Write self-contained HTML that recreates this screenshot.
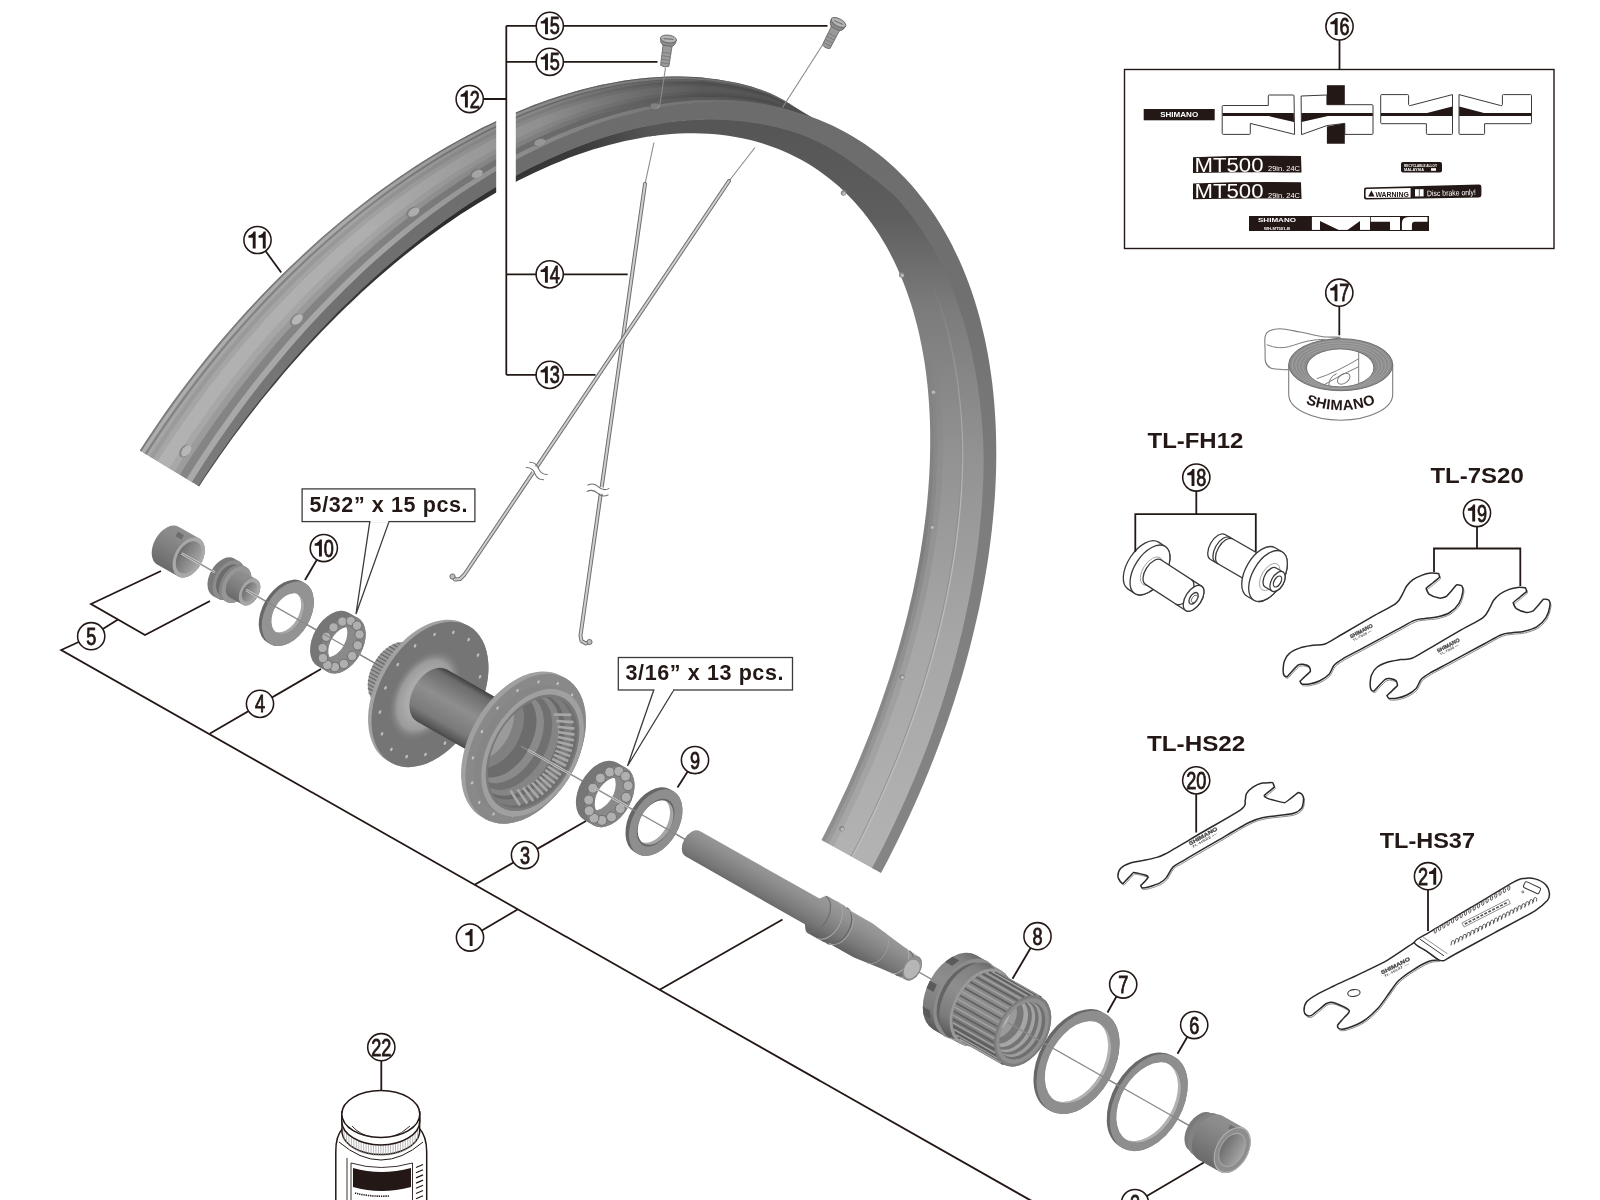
<!DOCTYPE html>
<html><head><meta charset="utf-8"><title>Wheel exploded view</title>
<style>
html,body{margin:0;padding:0;background:#fff;}
body{width:1600px;height:1200px;overflow:hidden;font-family:"Liberation Sans",sans-serif;}
svg{display:block;}
svg text{font-family:"Liberation Sans",sans-serif;}
</style></head><body>
<svg width="1600" height="1200" viewBox="0 0 1600 1200">
<defs><filter id="noop" x="0" y="0" width="1600" height="1200" filterUnits="userSpaceOnUse"><feOffset dx="0" dy="0"/></filter></defs>
<g filter="url(#noop)">
<rect width="1600" height="1200" fill="#fff"/>
<defs>
<linearGradient id="gSide" gradientUnits="userSpaceOnUse" x1="0" y1="100" x2="0" y2="870"><stop offset="0" stop-color="#6c6c6c"/><stop offset="0.25" stop-color="#707070"/><stop offset="0.5" stop-color="#7c7c7c"/><stop offset="1" stop-color="#858585"/></linearGradient>
<linearGradient id="gFace" gradientUnits="userSpaceOnUse" x1="0" y1="130" x2="0" y2="850"><stop offset="0" stop-color="#565656"/><stop offset="0.12" stop-color="#5e5e5e"/><stop offset="0.25" stop-color="#7c7c7c"/><stop offset="0.45" stop-color="#929292"/><stop offset="0.7" stop-color="#a6a6a6"/><stop offset="1" stop-color="#b2b2b2"/></linearGradient>
<linearGradient id="gFaceL" gradientUnits="userSpaceOnUse" x1="200" y1="0" x2="652" y2="0"><stop offset="0" stop-color="#4a4a4a"/><stop offset="0.55" stop-color="#2c2c2c"/><stop offset="0.85" stop-color="#3c3c3c"/><stop offset="1" stop-color="#565656"/></linearGradient>
<linearGradient id="gDarkA" gradientUnits="userSpaceOnUse" x1="140" y1="450" x2="800" y2="100"><stop offset="0" stop-color="#000" stop-opacity="0"/><stop offset="0.4" stop-color="#000" stop-opacity="0.02"/><stop offset="0.62" stop-color="#000" stop-opacity="0.16"/><stop offset="0.85" stop-color="#000" stop-opacity="0.3"/><stop offset="1" stop-color="#000" stop-opacity="0.4"/></linearGradient>
<linearGradient id="gDarkC" gradientUnits="userSpaceOnUse" x1="540" y1="0" x2="700" y2="0"><stop offset="0" stop-color="#000" stop-opacity="0"/><stop offset="1" stop-color="#000" stop-opacity="0.25"/></linearGradient>
</defs>
<g id="rim">
<path d="M139.8,450.4 L146.0,440.9 L152.4,431.4 L158.8,422.0 L165.3,412.6 L171.9,403.3 L178.7,394.1 L185.5,385.0 L192.4,375.9 L199.4,366.9 L206.5,358.1 L213.7,349.3 L221.0,340.6 L228.4,332.0 L235.8,323.5 L243.3,315.1 L250.9,306.8 L258.6,298.6 L266.3,290.5 L274.1,282.5 L281.9,274.7 L289.9,267.0 L297.9,259.4 L305.9,251.9 L314.0,244.5 L322.1,237.3 L330.3,230.2 L338.6,223.3 L346.8,216.4 L355.2,209.8 L363.5,203.2 L371.9,196.8 L380.3,190.6 L388.8,184.5 L397.2,178.5 L405.7,172.7 L414.2,167.1 L422.8,161.6 L431.3,156.2 L439.9,151.1 L448.4,146.0 L457.0,141.2 L465.6,136.5 L474.1,132.0 L482.7,127.6 L491.3,123.5 L499.8,119.4 L508.3,115.6 L516.9,111.9 L525.4,108.5 L533.8,105.1 L542.3,102.0 L550.7,99.0 L559.1,96.3 L567.5,93.7 L575.8,91.2 L584.1,89.0 L592.3,86.9 L600.5,85.1 L608.7,83.4 L616.8,81.9 L624.8,80.6 L632.8,79.4 L640.8,78.5 L648.7,77.7 L656.5,77.2 L664.2,76.8 L671.9,76.6 L679.5,76.5 L687.0,76.7 L694.5,77.1 L701.9,77.6 L709.1,78.4 L716.4,79.3 L723.5,80.4 L730.5,81.7 L737.5,83.1 L744.3,84.8 L751.1,86.6 L757.7,88.7 L764.3,90.9 L770.7,93.4 L776.9,96.4 L783.0,99.7 L788.9,103.2 L794.7,106.9 L800.4,110.5 L806.1,114.0 L811.7,117.2 L817.5,120.1 L817.5,120.1 L811.5,117.8 L805.4,115.7 L799.2,113.7 L793.0,111.9 L786.7,110.3 L780.3,108.8 L773.9,107.5 L767.4,106.3 L760.8,105.3 L754.2,104.4 L747.5,103.7 L740.7,103.1 L733.9,102.8 L727.0,102.5 L720.1,102.4 L713.2,102.5 L706.1,102.7 L699.1,103.1 L692.0,103.6 L684.8,104.3 L677.6,105.2 L670.3,106.2 L663.1,107.4 L655.7,108.7 L648.4,110.2 L641.0,111.8 L633.6,113.6 L626.1,115.5 L618.6,117.6 L611.1,119.8 L603.6,122.2 L596.1,124.8 L588.5,127.5 L580.9,130.3 L573.3,133.3 L565.7,136.5 L558.0,139.8 L550.4,143.2 L542.8,146.8 L535.1,150.5 L527.4,154.4 L519.8,158.4 L512.1,162.6 L504.5,166.9 L496.8,171.3 L489.1,175.9 L481.5,180.6 L473.9,185.5 L466.2,190.5 L458.6,195.6 L451.0,200.8 L443.5,206.2 L435.9,211.8 L428.4,217.4 L420.9,223.2 L413.4,229.1 L405.9,235.1 L398.5,241.2 L391.1,247.5 L383.7,253.9 L376.4,260.4 L369.1,267.0 L361.8,273.7 L354.6,280.6 L347.5,287.5 L340.3,294.6 L333.2,301.8 L326.2,309.0 L319.2,316.4 L312.3,323.9 L305.4,331.5 L298.6,339.1 L291.8,346.9 L285.1,354.8 L278.5,362.7 L271.9,370.8 L265.4,378.9 L258.9,387.1 L252.5,395.4 L246.2,403.8 L239.9,412.3 L233.8,420.8 L227.7,429.4 L221.6,438.1 L215.7,446.8 L209.8,455.7 L204.0,464.6 L198.3,473.5 L192.7,482.5Z" fill="#a2a2a2"/>
<path d="M139.8,450.4 L146.0,440.9 L152.4,431.4 L158.8,422.0 L165.3,412.6 L171.9,403.3 L178.7,394.1 L185.5,385.0 L192.4,375.9 L199.4,366.9 L206.5,358.1 L213.7,349.3 L221.0,340.6 L228.4,332.0 L235.8,323.5 L243.3,315.1 L250.9,306.8 L258.6,298.6 L266.3,290.5 L274.1,282.5 L281.9,274.7 L289.9,267.0 L297.9,259.4 L305.9,251.9 L314.0,244.5 L322.1,237.3 L330.3,230.2 L338.6,223.3 L346.8,216.4 L355.2,209.8 L363.5,203.2 L371.9,196.8 L380.3,190.6 L388.8,184.5 L397.2,178.5 L405.7,172.7 L414.2,167.1 L422.8,161.6 L431.3,156.2 L439.9,151.1 L448.4,146.0 L457.0,141.2 L465.6,136.5 L474.1,132.0 L482.7,127.6 L491.3,123.5 L499.8,119.4 L508.3,115.6 L516.9,111.9 L525.4,108.5 L533.8,105.1 L542.3,102.0 L550.7,99.0 L559.1,96.3 L567.5,93.7 L575.8,91.2 L584.1,89.0 L592.3,86.9 L600.5,85.1 L608.7,83.4 L616.8,81.9 L624.8,80.6 L632.8,79.4 L640.8,78.5 L648.7,77.7 L656.5,77.2 L664.2,76.8 L671.9,76.6 L679.5,76.5 L687.0,76.7 L694.5,77.1 L701.9,77.6 L709.1,78.4 L716.4,79.3 L723.5,80.4 L730.5,81.7 L737.5,83.1 L744.3,84.8 L751.1,86.6 L757.7,88.7 L764.3,90.9 L770.7,93.4 L776.9,96.4 L783.0,99.7 L788.9,103.2 L794.7,106.9 L800.4,110.5 L806.1,114.0 L811.7,117.2 L817.5,120.1 L817.5,120.1 L811.7,117.2 L806.0,114.0 L800.4,110.6 L794.6,107.0 L788.8,103.5 L782.9,100.0 L776.8,96.8 L770.6,93.9 L764.1,91.4 L757.6,89.2 L750.9,87.2 L744.2,85.4 L737.3,83.8 L730.4,82.4 L723.4,81.2 L716.2,80.1 L709.0,79.2 L701.8,78.5 L694.4,78.0 L686.9,77.7 L679.4,77.6 L671.8,77.6 L664.2,77.8 L656.4,78.3 L648.6,78.9 L640.8,79.7 L632.9,80.6 L624.9,81.8 L616.9,83.1 L608.8,84.7 L600.6,86.4 L592.5,88.3 L584.2,90.4 L576.0,92.6 L567.7,95.0 L559.3,97.7 L551.0,100.5 L542.6,103.4 L534.1,106.6 L525.7,109.9 L517.2,113.4 L508.7,117.1 L500.2,121.0 L491.7,125.0 L483.2,129.2 L474.7,133.5 L466.1,138.1 L457.6,142.7 L449.1,147.6 L440.5,152.6 L432.0,157.8 L423.5,163.1 L415.0,168.6 L406.5,174.3 L398.1,180.1 L389.6,186.0 L381.2,192.1 L372.8,198.4 L364.5,204.8 L356.2,211.3 L347.9,218.0 L339.6,224.8 L331.4,231.7 L323.3,238.8 L315.2,246.0 L307.1,253.4 L299.1,260.8 L291.1,268.4 L283.3,276.2 L275.4,284.0 L267.7,291.9 L260.0,300.0 L252.3,308.2 L244.8,316.4 L237.3,324.8 L229.9,333.3 L222.5,341.9 L215.3,350.6 L208.1,359.4 L201.1,368.2 L194.1,377.2 L187.2,386.2 L180.4,395.3 L173.7,404.5 L167.1,413.8 L160.6,423.1 L154.2,432.6 L147.9,442.0 L141.7,451.6Z" fill="#7d7d7d"/>
<path d="M141.5,451.4 L147.7,441.9 L154.0,432.4 L160.4,423.0 L166.9,413.7 L173.5,404.4 L180.2,395.2 L187.0,386.1 L193.9,377.0 L200.9,368.1 L208.0,359.2 L215.1,350.4 L222.4,341.8 L229.7,333.2 L237.1,324.7 L244.6,316.3 L252.2,308.0 L259.8,299.8 L267.5,291.8 L275.3,283.8 L283.1,276.0 L291.0,268.3 L299.0,260.7 L307.0,253.2 L315.0,245.9 L323.1,238.6 L331.3,231.6 L339.5,224.6 L347.8,217.8 L356.0,211.1 L364.4,204.6 L372.7,198.2 L381.1,191.9 L389.5,185.8 L398.0,179.9 L406.4,174.1 L414.9,168.4 L423.4,163.0 L431.9,157.6 L440.5,152.4 L449.0,147.4 L457.5,142.6 L466.1,137.9 L474.6,133.4 L483.1,129.0 L491.7,124.8 L500.2,120.8 L508.7,116.9 L517.2,113.3 L525.7,109.8 L534.1,106.4 L542.5,103.3 L550.9,100.3 L559.3,97.5 L567.6,94.9 L576.0,92.5 L584.2,90.2 L592.4,88.1 L600.6,86.2 L608.8,84.5 L616.8,83.0 L624.9,81.7 L632.9,80.5 L640.8,79.5 L648.6,78.7 L656.4,78.1 L664.2,77.7 L671.8,77.5 L679.4,77.4 L687.0,77.6 L694.4,77.9 L701.8,78.4 L709.1,79.1 L716.3,80.0 L723.4,81.1 L730.4,82.3 L737.3,83.8 L744.2,85.4 L750.9,87.2 L757.6,89.2 L764.1,91.3 L770.6,93.8 L776.8,96.7 L782.9,100.0 L788.8,103.4 L794.6,107.0 L800.4,110.6 L806.0,114.0 L811.7,117.2 L817.5,120.1 L817.5,120.1 L811.7,117.3 L806.0,114.1 L800.3,110.8 L794.5,107.3 L788.7,103.9 L782.7,100.6 L776.6,97.4 L770.4,94.6 L763.9,92.3 L757.4,90.2 L750.7,88.3 L744.0,86.5 L737.1,85.0 L730.2,83.7 L723.2,82.5 L716.1,81.5 L708.9,80.7 L701.6,80.0 L694.2,79.6 L686.8,79.3 L679.3,79.3 L671.7,79.4 L664.1,79.7 L656.4,80.1 L648.6,80.8 L640.8,81.7 L632.9,82.7 L625.0,83.9 L617.0,85.3 L608.9,86.9 L600.8,88.6 L592.7,90.5 L584.5,92.7 L576.3,95.0 L568.0,97.4 L559.7,100.1 L551.4,102.9 L543.1,105.9 L534.7,109.1 L526.3,112.5 L517.9,116.0 L509.4,119.7 L501.0,123.5 L492.5,127.6 L484.0,131.8 L475.6,136.2 L467.1,140.7 L458.6,145.4 L450.1,150.3 L441.7,155.3 L433.2,160.5 L424.7,165.8 L416.3,171.3 L407.9,177.0 L399.5,182.8 L391.1,188.7 L382.7,194.8 L374.4,201.0 L366.1,207.4 L357.9,213.9 L349.6,220.6 L341.5,227.4 L333.3,234.3 L325.2,241.4 L317.2,248.6 L309.2,255.9 L301.2,263.4 L293.3,271.0 L285.5,278.7 L277.7,286.5 L270.0,294.4 L262.4,302.4 L254.8,310.6 L247.3,318.8 L239.8,327.2 L232.5,335.6 L225.2,344.2 L218.0,352.9 L210.9,361.6 L203.9,370.4 L196.9,379.4 L190.1,388.4 L183.3,397.5 L176.7,406.6 L170.1,415.9 L163.6,425.2 L157.3,434.5 L151.0,444.0 L144.8,453.5Z" fill="#adadad"/>
<path d="M144.6,453.4 L150.8,443.9 L157.1,434.4 L163.4,425.0 L169.9,415.7 L176.5,406.5 L183.1,397.3 L189.9,388.2 L196.7,379.2 L203.7,370.3 L210.7,361.5 L217.8,352.7 L225.0,344.1 L232.3,335.5 L239.7,327.0 L247.1,318.7 L254.6,310.4 L262.2,302.3 L269.8,294.2 L277.6,286.3 L285.3,278.5 L293.2,270.8 L301.1,263.2 L309.0,255.8 L317.0,248.4 L325.1,241.2 L333.2,234.2 L341.3,227.2 L349.5,220.4 L357.8,213.8 L366.0,207.2 L374.3,200.9 L382.6,194.6 L391.0,188.5 L399.4,182.6 L407.8,176.8 L416.2,171.1 L424.7,165.6 L433.1,160.3 L441.6,155.1 L450.1,150.1 L458.5,145.2 L467.0,140.5 L475.5,136.0 L484.0,131.6 L492.5,127.4 L500.9,123.4 L509.4,119.5 L517.8,115.8 L526.2,112.3 L534.6,108.9 L543.0,105.8 L551.4,102.7 L559.7,99.9 L568.0,97.3 L576.3,94.8 L584.5,92.5 L592.7,90.4 L600.8,88.5 L608.9,86.7 L617.0,85.1 L625.0,83.7 L632.9,82.5 L640.8,81.5 L648.6,80.7 L656.4,80.0 L664.1,79.5 L671.7,79.3 L679.3,79.2 L686.8,79.2 L694.3,79.5 L701.6,79.9 L708.9,80.6 L716.1,81.4 L723.2,82.4 L730.2,83.6 L737.1,84.9 L744.0,86.5 L750.7,88.2 L757.4,90.1 L763.9,92.2 L770.4,94.6 L776.6,97.4 L782.7,100.5 L788.7,103.9 L794.5,107.3 L800.3,110.8 L806.0,114.1 L811.7,117.3 L817.5,120.1 L817.5,120.1 L811.7,117.3 L806.0,114.2 L800.2,110.9 L794.5,107.5 L788.6,104.2 L782.6,100.9 L776.5,97.9 L770.2,95.2 L763.8,92.8 L757.2,90.8 L750.6,89.0 L743.8,87.3 L737.0,85.8 L730.0,84.5 L723.0,83.4 L715.9,82.4 L708.7,81.6 L701.5,81.1 L694.1,80.7 L686.7,80.5 L679.2,80.4 L671.7,80.6 L664.1,80.9 L656.4,81.4 L648.6,82.1 L640.8,83.0 L632.9,84.0 L625.0,85.3 L617.0,86.7 L609.0,88.3 L600.9,90.1 L592.8,92.1 L584.7,94.2 L576.5,96.5 L568.3,99.0 L560.0,101.7 L551.7,104.5 L543.4,107.6 L535.0,110.8 L526.7,114.1 L518.3,117.7 L509.9,121.4 L501.5,125.3 L493.0,129.3 L484.6,133.5 L476.2,137.9 L467.7,142.5 L459.3,147.2 L450.8,152.0 L442.4,157.1 L434.0,162.3 L425.6,167.6 L417.2,173.1 L408.8,178.7 L400.4,184.5 L392.1,190.5 L383.8,196.6 L375.5,202.8 L367.2,209.2 L359.0,215.7 L350.8,222.4 L342.7,229.2 L334.6,236.1 L326.5,243.1 L318.5,250.3 L310.5,257.6 L302.6,265.1 L294.8,272.6 L287.0,280.3 L279.2,288.1 L271.6,296.0 L264.0,304.1 L256.4,312.2 L248.9,320.4 L241.6,328.8 L234.2,337.2 L227.0,345.7 L219.8,354.4 L212.7,363.1 L205.7,371.9 L198.8,380.8 L192.0,389.8 L185.3,398.9 L178.6,408.0 L172.1,417.2 L165.7,426.5 L159.3,435.9 L153.1,445.3 L147.0,454.8Z" fill="#848484"/>
<path d="M146.8,454.6 L152.9,445.2 L159.1,435.7 L165.5,426.4 L171.9,417.1 L178.4,407.9 L185.1,398.7 L191.8,389.7 L198.6,380.7 L205.6,371.8 L212.6,362.9 L219.6,354.2 L226.8,345.6 L234.1,337.0 L241.4,328.6 L248.8,320.3 L256.3,312.0 L263.8,303.9 L271.4,295.9 L279.1,288.0 L286.8,280.2 L294.6,272.5 L302.5,264.9 L310.4,257.5 L318.4,250.2 L326.4,243.0 L334.5,235.9 L342.6,229.0 L350.7,222.2 L358.9,215.5 L367.1,209.0 L375.4,202.6 L383.7,196.4 L392.0,190.3 L400.3,184.4 L408.7,178.6 L417.1,172.9 L425.5,167.4 L433.9,162.1 L442.3,156.9 L450.8,151.9 L459.2,147.0 L467.7,142.3 L476.1,137.7 L484.5,133.4 L493.0,129.1 L501.4,125.1 L509.8,121.2 L518.2,117.5 L526.6,114.0 L535.0,110.6 L543.3,107.4 L551.7,104.4 L560.0,101.5 L568.2,98.9 L576.5,96.4 L584.7,94.0 L592.8,91.9 L600.9,89.9 L609.0,88.2 L617.0,86.6 L625.0,85.1 L632.9,83.9 L640.8,82.9 L648.6,82.0 L656.4,81.3 L664.1,80.8 L671.7,80.4 L679.2,80.3 L686.7,80.3 L694.1,80.6 L701.5,81.0 L708.8,81.6 L715.9,82.3 L723.0,83.3 L730.1,84.4 L737.0,85.7 L743.8,87.2 L750.6,88.9 L757.2,90.7 L763.8,92.8 L770.2,95.1 L776.5,97.8 L782.6,100.9 L788.6,104.1 L794.5,107.5 L800.2,110.9 L806.0,114.2 L811.7,117.3 L817.5,120.1 L817.5,120.1 L811.7,117.3 L805.9,114.3 L800.2,111.1 L794.4,107.8 L788.5,104.6 L782.5,101.4 L776.3,98.5 L770.0,95.9 L763.6,93.6 L757.0,91.7 L750.4,89.9 L743.6,88.3 L736.8,86.9 L729.9,85.6 L722.8,84.6 L715.8,83.7 L708.6,83.0 L701.3,82.5 L694.0,82.1 L686.6,82.0 L679.1,82.0 L671.6,82.2 L664.0,82.6 L656.3,83.1 L648.6,83.9 L640.8,84.8 L633.0,85.9 L625.1,87.2 L617.1,88.7 L609.2,90.3 L601.1,92.1 L593.0,94.1 L584.9,96.3 L576.8,98.7 L568.6,101.2 L560.4,103.9 L552.1,106.8 L543.8,109.8 L535.5,113.1 L527.2,116.4 L518.9,120.0 L510.5,123.7 L502.1,127.6 L493.8,131.7 L485.4,135.9 L477.0,140.3 L468.6,144.9 L460.2,149.6 L451.8,154.5 L443.4,159.5 L435.1,164.7 L426.7,170.1 L418.4,175.6 L410.0,181.2 L401.7,187.0 L393.4,192.9 L385.2,199.0 L377.0,205.3 L368.7,211.6 L360.6,218.1 L352.5,224.8 L344.4,231.6 L336.3,238.5 L328.3,245.5 L320.3,252.7 L312.4,260.0 L304.6,267.4 L296.8,275.0 L289.0,282.6 L281.3,290.4 L273.7,298.3 L266.2,306.3 L258.7,314.4 L251.2,322.6 L243.9,330.9 L236.6,339.3 L229.4,347.8 L222.3,356.5 L215.3,365.2 L208.3,373.9 L201.4,382.8 L194.7,391.8 L188.0,400.8 L181.4,409.9 L174.9,419.1 L168.5,428.4 L162.2,437.7 L156.0,447.1 L149.9,456.5Z" fill="#a6a6a6"/>
<path d="M149.7,456.4 L155.8,447.0 L162.0,437.6 L168.3,428.2 L174.7,419.0 L181.2,409.8 L187.8,400.7 L194.5,391.6 L201.3,382.7 L208.1,373.8 L215.1,365.0 L222.1,356.3 L229.2,347.7 L236.4,339.2 L243.7,330.8 L251.1,322.4 L258.5,314.2 L266.0,306.1 L273.6,298.1 L281.2,290.2 L288.9,282.5 L296.6,274.8 L304.4,267.2 L312.3,259.8 L320.2,252.5 L328.2,245.4 L336.2,238.3 L344.2,231.4 L352.3,224.6 L360.5,218.0 L368.6,211.5 L376.8,205.1 L385.1,198.8 L393.3,192.8 L401.6,186.8 L409.9,181.0 L418.3,175.4 L426.6,169.9 L435.0,164.5 L443.4,159.3 L451.7,154.3 L460.1,149.4 L468.5,144.7 L476.9,140.2 L485.3,135.8 L493.7,131.5 L502.1,127.5 L510.5,123.6 L518.8,119.8 L527.2,116.3 L535.5,112.9 L543.8,109.7 L552.1,106.6 L560.3,103.7 L568.6,101.0 L576.7,98.5 L584.9,96.2 L593.0,94.0 L601.1,92.0 L609.1,90.2 L617.1,88.5 L625.1,87.1 L633.0,85.8 L640.8,84.7 L648.6,83.8 L656.3,83.0 L664.0,82.5 L671.6,82.1 L679.1,81.9 L686.6,81.9 L694.0,82.0 L701.3,82.4 L708.6,82.9 L715.8,83.6 L722.9,84.5 L729.9,85.5 L736.8,86.8 L743.6,88.2 L750.4,89.8 L757.0,91.6 L763.6,93.6 L770.1,95.8 L776.3,98.4 L782.5,101.4 L788.5,104.5 L794.4,107.8 L800.2,111.1 L805.9,114.3 L811.7,117.3 L817.5,120.1 L817.5,120.1 L811.7,117.4 L805.9,114.4 L800.1,111.3 L794.2,108.2 L788.3,105.1 L782.3,102.1 L776.1,99.3 L769.8,96.8 L763.4,94.6 L756.8,92.8 L750.1,91.1 L743.4,89.6 L736.5,88.2 L729.6,87.1 L722.6,86.1 L715.5,85.3 L708.4,84.7 L701.1,84.3 L693.8,84.0 L686.4,83.9 L679.0,84.0 L671.5,84.3 L663.9,84.7 L656.3,85.4 L648.6,86.2 L640.8,87.1 L633.0,88.3 L625.2,89.7 L617.3,91.2 L609.3,92.9 L601.3,94.7 L593.3,96.8 L585.2,99.0 L577.1,101.4 L569.0,104.0 L560.8,106.7 L552.6,109.6 L544.4,112.7 L536.2,116.0 L527.9,119.4 L519.6,123.0 L511.3,126.7 L503.0,130.7 L494.7,134.7 L486.4,139.0 L478.0,143.4 L469.7,148.0 L461.4,152.7 L453.1,157.6 L444.8,162.6 L436.4,167.8 L428.2,173.2 L419.9,178.7 L411.6,184.3 L403.4,190.1 L395.2,196.1 L387.0,202.1 L378.8,208.4 L370.7,214.7 L362.6,221.2 L354.5,227.9 L346.5,234.6 L338.5,241.5 L330.6,248.6 L322.7,255.7 L314.8,263.0 L307.1,270.4 L299.3,277.9 L291.6,285.5 L284.0,293.3 L276.5,301.2 L269.0,309.1 L261.5,317.2 L254.2,325.4 L246.9,333.7 L239.7,342.1 L232.5,350.5 L225.5,359.1 L218.5,367.8 L211.6,376.5 L204.8,385.4 L198.0,394.3 L191.4,403.3 L184.9,412.4 L178.4,421.5 L172.0,430.7 L165.8,440.0 L159.6,449.4 L153.6,458.8Z" fill="#9b9b9b"/>
<path d="M153.4,458.7 L159.4,449.2 L165.6,439.9 L171.8,430.6 L178.2,421.4 L184.7,412.2 L191.2,403.1 L197.9,394.1 L204.6,385.2 L211.4,376.4 L218.3,367.6 L225.3,359.0 L232.4,350.4 L239.5,341.9 L246.7,333.5 L254.0,325.2 L261.4,317.0 L268.8,309.0 L276.3,301.0 L283.9,293.1 L291.5,285.4 L299.2,277.7 L306.9,270.2 L314.7,262.8 L322.6,255.5 L330.5,248.4 L338.4,241.4 L346.4,234.5 L354.4,227.7 L362.5,221.1 L370.6,214.6 L378.7,208.2 L386.9,202.0 L395.1,195.9 L403.3,189.9 L411.5,184.1 L419.8,178.5 L428.1,173.0 L436.4,167.7 L444.7,162.5 L453.0,157.4 L461.3,152.5 L469.6,147.8 L478.0,143.2 L486.3,138.8 L494.6,134.6 L503.0,130.5 L511.3,126.6 L519.6,122.8 L527.8,119.2 L536.1,115.8 L544.4,112.6 L552.6,109.5 L560.8,106.6 L569.0,103.8 L577.1,101.2 L585.2,98.9 L593.3,96.6 L601.3,94.6 L609.3,92.7 L617.3,91.0 L625.2,89.5 L633.0,88.2 L640.8,87.0 L648.6,86.0 L656.3,85.2 L663.9,84.6 L671.5,84.2 L679.0,83.9 L686.5,83.8 L693.8,83.9 L701.1,84.1 L708.4,84.6 L715.5,85.2 L722.6,86.0 L729.6,87.0 L736.5,88.2 L743.4,89.5 L750.1,91.0 L756.8,92.7 L763.4,94.6 L769.8,96.7 L776.1,99.2 L782.3,102.0 L788.3,105.0 L794.2,108.2 L800.1,111.3 L805.9,114.4 L811.7,117.4 L817.5,120.1 L817.5,120.1 L811.6,117.4 L805.8,114.6 L800.0,111.6 L794.1,108.6 L788.1,105.6 L782.1,102.8 L775.9,100.2 L769.5,97.8 L763.1,95.8 L756.5,94.0 L749.8,92.4 L743.1,91.0 L736.3,89.8 L729.3,88.8 L722.3,87.9 L715.3,87.2 L708.1,86.6 L700.9,86.3 L693.6,86.1 L686.3,86.1 L678.8,86.3 L671.4,86.6 L663.8,87.2 L656.2,87.9 L648.6,88.8 L640.8,89.8 L633.1,91.0 L625.3,92.4 L617.4,94.0 L609.5,95.8 L601.6,97.7 L593.6,99.8 L585.6,102.1 L577.5,104.5 L569.5,107.1 L561.3,109.9 L553.2,112.9 L545.0,116.0 L536.9,119.3 L528.7,122.8 L520.5,126.4 L512.2,130.2 L504.0,134.1 L495.7,138.2 L487.5,142.5 L479.2,146.9 L471.0,151.5 L462.7,156.3 L454.5,161.2 L446.3,166.2 L438.0,171.4 L429.8,176.8 L421.6,182.3 L413.4,187.9 L405.3,193.7 L397.1,199.6 L389.0,205.7 L380.9,211.9 L372.9,218.3 L364.9,224.8 L356.9,231.4 L348.9,238.1 L341.0,245.0 L333.2,252.0 L325.4,259.1 L317.6,266.4 L309.9,273.8 L302.2,281.3 L294.6,288.9 L287.1,296.6 L279.6,304.4 L272.2,312.4 L264.8,320.4 L257.5,328.6 L250.3,336.8 L243.2,345.2 L236.1,353.6 L229.1,362.1 L222.2,370.8 L215.3,379.5 L208.6,388.3 L201.9,397.1 L195.3,406.1 L188.8,415.1 L182.4,424.2 L176.1,433.4 L169.9,442.7 L163.8,452.0 L157.8,461.3Z" fill="#a6a6a6"/>
<path d="M157.6,461.2 L163.6,451.8 L169.7,442.5 L175.9,433.3 L182.2,424.1 L188.6,415.0 L195.1,406.0 L201.7,397.0 L208.4,388.1 L215.1,379.3 L222.0,370.6 L228.9,362.0 L235.9,353.4 L243.0,345.0 L250.1,336.7 L257.4,328.4 L264.6,320.3 L272.0,312.2 L279.4,304.3 L286.9,296.4 L294.5,288.7 L302.1,281.1 L309.7,273.6 L317.5,266.2 L325.2,259.0 L333.1,251.8 L340.9,244.8 L348.8,238.0 L356.8,231.2 L364.8,224.6 L372.8,218.1 L380.8,211.7 L388.9,205.5 L397.0,199.4 L405.2,193.5 L413.3,187.7 L421.5,182.1 L429.7,176.6 L437.9,171.2 L446.2,166.0 L454.4,161.0 L462.7,156.1 L470.9,151.3 L479.2,146.7 L487.4,142.3 L495.7,138.1 L503.9,133.9 L512.2,130.0 L520.4,126.2 L528.6,122.6 L536.8,119.1 L545.0,115.8 L553.2,112.7 L561.3,109.8 L569.4,107.0 L577.5,104.4 L585.6,101.9 L593.6,99.7 L601.6,97.6 L609.5,95.6 L617.4,93.9 L625.3,92.3 L633.1,90.9 L640.8,89.7 L648.6,88.6 L656.2,87.7 L663.8,87.0 L671.4,86.5 L678.9,86.2 L686.3,86.0 L693.6,86.0 L700.9,86.2 L708.1,86.5 L715.3,87.1 L722.4,87.8 L729.3,88.7 L736.3,89.7 L743.1,91.0 L749.9,92.4 L756.5,94.0 L763.1,95.7 L769.6,97.7 L775.9,100.1 L782.1,102.8 L788.1,105.6 L794.1,108.6 L800.0,111.6 L805.8,114.6 L811.6,117.4 L817.5,120.1 L817.5,120.1 L811.6,117.5 L805.7,114.9 L799.7,112.3 L793.7,109.7 L787.7,107.2 L781.5,104.8 L775.2,102.6 L768.8,100.6 L762.3,98.9 L755.7,97.5 L749.0,96.2 L742.3,95.1 L735.5,94.1 L728.6,93.3 L721.6,92.7 L714.6,92.3 L707.5,92.0 L700.3,91.9 L693.1,92.0 L685.8,92.2 L678.4,92.6 L671.0,93.2 L663.6,93.9 L656.1,94.8 L648.5,95.9 L640.9,97.1 L633.2,98.6 L625.6,100.1 L617.8,101.9 L610.1,103.8 L602.3,105.9 L594.4,108.1 L586.6,110.6 L578.7,113.1 L570.7,115.9 L562.8,118.8 L554.8,121.8 L546.8,125.1 L538.8,128.5 L530.8,132.0 L522.8,135.7 L514.7,139.6 L506.7,143.6 L498.6,147.8 L490.6,152.1 L482.5,156.6 L474.5,161.2 L466.4,166.0 L458.4,170.9 L450.4,176.0 L442.4,181.2 L434.4,186.6 L426.4,192.1 L418.4,197.7 L410.5,203.5 L402.5,209.4 L394.7,215.5 L386.8,221.7 L379.0,228.0 L371.2,234.5 L363.4,241.0 L355.7,247.8 L348.0,254.6 L340.3,261.5 L332.7,268.6 L325.2,275.8 L317.7,283.1 L310.2,290.5 L302.8,298.1 L295.5,305.7 L288.2,313.4 L281.0,321.3 L273.8,329.2 L266.7,337.3 L259.7,345.5 L252.7,353.7 L245.8,362.0 L239.0,370.5 L232.3,379.0 L225.6,387.6 L219.0,396.3 L212.5,405.0 L206.1,413.9 L199.8,422.8 L193.5,431.8 L187.3,440.8 L181.3,450.0 L175.3,459.2 L169.4,468.4Z" fill="#b2b2b2"/>
<path d="M169.2,468.3 L175.1,459.0 L181.1,449.8 L187.1,440.7 L193.3,431.6 L199.6,422.7 L205.9,413.7 L212.3,404.9 L218.8,396.1 L225.4,387.4 L232.1,378.8 L238.8,370.3 L245.7,361.9 L252.6,353.5 L259.5,345.3 L266.6,337.1 L273.7,329.1 L280.8,321.1 L288.0,313.3 L295.3,305.5 L302.7,297.9 L310.1,290.4 L317.5,282.9 L325.0,275.6 L332.6,268.4 L340.2,261.4 L347.8,254.4 L355.5,247.6 L363.3,240.9 L371.0,234.3 L378.8,227.8 L386.7,221.5 L394.6,215.3 L402.5,209.3 L410.4,203.3 L418.3,197.6 L426.3,191.9 L434.3,186.4 L442.3,181.0 L450.3,175.8 L458.3,170.7 L466.4,165.8 L474.4,161.0 L482.5,156.4 L490.5,151.9 L498.6,147.6 L506.6,143.4 L514.7,139.4 L522.7,135.6 L530.8,131.8 L538.8,128.3 L546.8,124.9 L554.8,121.7 L562.8,118.6 L570.7,115.7 L578.6,113.0 L586.5,110.4 L594.4,108.0 L602.2,105.7 L610.0,103.7 L617.8,101.7 L625.6,100.0 L633.2,98.4 L640.9,97.0 L648.5,95.8 L656.1,94.7 L663.6,93.8 L671.0,93.0 L678.4,92.5 L685.8,92.1 L693.1,91.9 L700.3,91.8 L707.5,91.9 L714.6,92.2 L721.6,92.6 L728.6,93.3 L735.5,94.0 L742.3,95.0 L749.1,96.1 L755.7,97.4 L762.3,98.9 L768.8,100.6 L775.2,102.6 L781.5,104.8 L787.7,107.2 L793.7,109.7 L799.7,112.3 L805.7,114.9 L811.6,117.5 L817.5,120.1 L817.5,120.1 L811.6,117.6 L805.6,115.1 L799.6,112.6 L793.6,110.2 L787.4,107.9 L781.2,105.7 L774.9,103.7 L768.5,101.9 L762.0,100.4 L755.4,99.1 L748.7,97.9 L741.9,96.9 L735.1,96.1 L728.2,95.4 L721.3,94.9 L714.2,94.6 L707.2,94.4 L700.0,94.4 L692.8,94.6 L685.6,95.0 L678.2,95.5 L670.9,96.1 L663.5,97.0 L656.0,98.0 L648.5,99.1 L640.9,100.5 L633.3,102.0 L625.7,103.6 L618.0,105.5 L610.3,107.5 L602.6,109.6 L594.8,111.9 L587.0,114.4 L579.2,117.0 L571.3,119.8 L563.4,122.8 L555.6,125.9 L547.6,129.2 L539.7,132.6 L531.8,136.2 L523.8,140.0 L515.9,143.9 L507.9,147.9 L500.0,152.1 L492.0,156.5 L484.0,161.0 L476.1,165.6 L468.1,170.4 L460.2,175.4 L452.3,180.5 L444.3,185.7 L436.4,191.0 L428.5,196.6 L420.7,202.2 L412.8,208.0 L405.0,213.9 L397.2,220.0 L389.4,226.1 L381.7,232.4 L374.0,238.9 L366.3,245.4 L358.7,252.1 L351.1,258.9 L343.6,265.9 L336.1,272.9 L328.6,280.1 L321.2,287.3 L313.9,294.7 L306.6,302.2 L299.3,309.8 L292.1,317.5 L285.0,325.3 L277.9,333.3 L270.9,341.3 L264.0,349.4 L257.1,357.6 L250.3,365.9 L243.5,374.3 L236.9,382.7 L230.3,391.3 L223.8,399.9 L217.3,408.6 L211.0,417.4 L204.7,426.3 L198.5,435.2 L192.4,444.2 L186.4,453.3 L180.5,462.4 L174.7,471.6Z" fill="#a8a8a8"/>
<path d="M174.5,471.5 L180.3,462.3 L186.2,453.1 L192.2,444.1 L198.3,435.1 L204.5,426.1 L210.8,417.3 L217.2,408.5 L223.6,399.8 L230.1,391.1 L236.7,382.6 L243.4,374.1 L250.1,365.7 L256.9,357.4 L263.8,349.2 L270.7,341.1 L277.7,333.1 L284.8,325.2 L292.0,317.4 L299.2,309.7 L306.4,302.1 L313.7,294.6 L321.1,287.2 L328.5,279.9 L335.9,272.7 L343.5,265.7 L351.0,258.8 L358.6,252.0 L366.2,245.3 L373.9,238.7 L381.6,232.3 L389.3,226.0 L397.1,219.8 L404.9,213.7 L412.7,207.8 L420.6,202.0 L428.5,196.4 L436.4,190.9 L444.3,185.5 L452.2,180.3 L460.1,175.2 L468.1,170.2 L476.0,165.5 L484.0,160.8 L491.9,156.3 L499.9,151.9 L507.9,147.7 L515.8,143.7 L523.8,139.8 L531.7,136.1 L539.7,132.5 L547.6,129.0 L555.5,125.8 L563.4,122.6 L571.3,119.7 L579.1,116.9 L587.0,114.2 L594.8,111.8 L602.6,109.5 L610.3,107.3 L618.0,105.3 L625.7,103.5 L633.3,101.8 L640.9,100.3 L648.5,99.0 L656.0,97.8 L663.5,96.8 L670.9,96.0 L678.2,95.3 L685.6,94.8 L692.8,94.5 L700.0,94.3 L707.2,94.3 L714.3,94.5 L721.3,94.8 L728.2,95.3 L735.1,96.0 L742.0,96.8 L748.7,97.8 L755.4,99.0 L762.0,100.3 L768.5,101.9 L774.9,103.7 L781.2,105.7 L787.4,107.9 L793.6,110.2 L799.6,112.6 L805.6,115.1 L811.6,117.6 L817.5,120.1 L817.5,120.1 L811.5,117.7 L805.5,115.3 L799.5,113.0 L793.4,110.7 L787.2,108.6 L780.9,106.6 L774.6,104.8 L768.2,103.2 L761.6,101.8 L755.0,100.6 L748.3,99.6 L741.6,98.7 L734.8,98.0 L727.9,97.5 L720.9,97.1 L713.9,96.9 L706.9,96.9 L699.7,97.0 L692.6,97.3 L685.3,97.7 L678.0,98.3 L670.7,99.1 L663.3,100.0 L655.9,101.1 L648.4,102.4 L640.9,103.8 L633.4,105.4 L625.8,107.1 L618.2,109.0 L610.5,111.1 L602.9,113.3 L595.2,115.7 L587.4,118.3 L579.7,121.0 L571.9,123.8 L564.1,126.8 L556.3,130.0 L548.5,133.3 L540.6,136.8 L532.8,140.4 L524.9,144.2 L517.0,148.1 L509.2,152.2 L501.3,156.5 L493.4,160.8 L485.5,165.4 L477.7,170.0 L469.8,174.9 L462.0,179.8 L454.1,184.9 L446.3,190.1 L438.5,195.5 L430.7,201.0 L422.9,206.7 L415.2,212.5 L407.5,218.4 L399.8,224.4 L392.1,230.6 L384.5,236.9 L376.9,243.3 L369.3,249.8 L361.8,256.5 L354.3,263.3 L346.8,270.2 L339.4,277.2 L332.1,284.3 L324.8,291.6 L317.5,298.9 L310.3,306.4 L303.1,314.0 L296.0,321.6 L289.0,329.4 L282.0,337.3 L275.1,345.2 L268.2,353.3 L261.4,361.5 L254.7,369.7 L248.1,378.0 L241.5,386.5 L235.0,395.0 L228.5,403.5 L222.2,412.2 L215.9,420.9 L209.7,429.7 L203.6,438.6 L197.6,447.6 L191.6,456.6 L185.7,465.7 L180.0,474.8Z" fill="#9c9c9c"/>
<path d="M179.8,474.7 L185.5,465.5 L191.4,456.5 L197.3,447.4 L203.4,438.5 L209.5,429.6 L215.7,420.8 L222.0,412.1 L228.3,403.4 L234.8,394.8 L241.3,386.3 L247.9,377.9 L254.5,369.6 L261.3,361.3 L268.1,353.1 L274.9,345.1 L281.8,337.1 L288.8,329.2 L295.9,321.5 L303.0,313.8 L310.1,306.2 L317.3,298.8 L324.6,291.4 L331.9,284.2 L339.3,277.0 L346.7,270.0 L354.2,263.1 L361.6,256.3 L369.2,249.7 L376.8,243.1 L384.4,236.7 L392.0,230.4 L399.7,224.2 L407.4,218.2 L415.1,212.3 L422.9,206.5 L430.6,200.8 L438.4,195.3 L446.2,190.0 L454.1,184.7 L461.9,179.6 L469.8,174.7 L477.6,169.9 L485.5,165.2 L493.4,160.7 L501.2,156.3 L509.1,152.1 L517.0,148.0 L524.9,144.0 L532.7,140.3 L540.6,136.6 L548.4,133.2 L556.3,129.8 L564.1,126.7 L571.9,123.7 L579.7,120.8 L587.4,118.1 L595.1,115.6 L602.9,113.2 L610.5,111.0 L618.2,108.9 L625.8,107.0 L633.4,105.2 L640.9,103.7 L648.4,102.3 L655.9,101.0 L663.3,99.9 L670.7,99.0 L678.1,98.2 L685.3,97.6 L692.6,97.2 L699.7,96.9 L706.9,96.8 L713.9,96.8 L720.9,97.0 L727.9,97.4 L734.8,98.0 L741.6,98.7 L748.3,99.5 L755.0,100.6 L761.6,101.8 L768.2,103.2 L774.6,104.8 L781.0,106.6 L787.2,108.6 L793.4,110.7 L799.5,113.0 L805.5,115.3 L811.5,117.7 L817.5,120.1 L817.5,120.1 L811.5,117.7 L805.5,115.5 L799.3,113.4 L793.2,111.4 L786.9,109.5 L780.6,107.8 L774.2,106.3 L767.7,104.9 L761.2,103.7 L754.6,102.7 L747.9,101.8 L741.1,101.1 L734.3,100.6 L727.4,100.2 L720.5,100.0 L713.5,99.9 L706.5,100.0 L699.4,100.3 L692.2,100.7 L685.0,101.3 L677.8,102.0 L670.5,102.9 L663.2,104.0 L655.8,105.2 L648.4,106.6 L641.0,108.1 L633.5,109.8 L626.0,111.7 L618.4,113.7 L610.9,115.8 L603.3,118.2 L595.6,120.6 L588.0,123.3 L580.3,126.0 L572.7,129.0 L565.0,132.1 L557.2,135.3 L549.5,138.7 L541.8,142.2 L534.0,145.9 L526.3,149.7 L518.5,153.7 L510.8,157.8 L503.0,162.1 L495.2,166.5 L487.5,171.1 L479.8,175.8 L472.0,180.6 L464.3,185.6 L456.6,190.7 L448.9,195.9 L441.2,201.3 L433.5,206.8 L425.9,212.5 L418.3,218.3 L410.7,224.2 L403.1,230.2 L395.6,236.3 L388.1,242.6 L380.6,249.0 L373.1,255.5 L365.7,262.2 L358.4,268.9 L351.1,275.8 L343.8,282.8 L336.5,289.9 L329.4,297.1 L322.2,304.4 L315.1,311.8 L308.1,319.3 L301.1,327.0 L294.2,334.7 L287.3,342.5 L280.5,350.4 L273.8,358.4 L267.1,366.5 L260.5,374.7 L253.9,383.0 L247.5,391.3 L241.0,399.8 L234.7,408.3 L228.4,416.9 L222.3,425.5 L216.2,434.3 L210.1,443.1 L204.2,452.0 L198.3,460.9 L192.5,469.9 L186.8,479.0Z" fill="#858585"/>
<path d="M186.6,478.9 L192.3,469.8 L198.1,460.8 L204.0,451.8 L209.9,442.9 L216.0,434.1 L222.1,425.4 L228.3,416.7 L234.5,408.1 L240.9,399.6 L247.3,391.2 L253.7,382.8 L260.3,374.5 L266.9,366.4 L273.6,358.3 L280.3,350.2 L287.2,342.3 L294.0,334.5 L301.0,326.8 L307.9,319.2 L315.0,311.7 L322.1,304.2 L329.2,296.9 L336.4,289.7 L343.6,282.6 L350.9,275.6 L358.3,268.8 L365.6,262.0 L373.0,255.4 L380.5,248.8 L387.9,242.4 L395.5,236.2 L403.0,230.0 L410.6,224.0 L418.2,218.1 L425.8,212.3 L433.4,206.7 L441.1,201.1 L448.8,195.8 L456.5,190.5 L464.2,185.4 L471.9,180.4 L479.7,175.6 L487.4,170.9 L495.2,166.3 L503.0,161.9 L510.7,157.7 L518.5,153.5 L526.2,149.6 L534.0,145.7 L541.7,142.0 L549.5,138.5 L557.2,135.1 L564.9,131.9 L572.6,128.8 L580.3,125.9 L588.0,123.1 L595.6,120.5 L603.3,118.0 L610.9,115.7 L618.4,113.5 L626.0,111.5 L633.5,109.7 L641.0,108.0 L648.4,106.5 L655.8,105.1 L663.2,103.9 L670.5,102.8 L677.8,101.9 L685.0,101.2 L692.2,100.6 L699.4,100.2 L706.5,99.9 L713.5,99.8 L720.5,99.9 L727.4,100.1 L734.3,100.5 L741.1,101.1 L747.9,101.8 L754.6,102.6 L761.2,103.6 L767.7,104.8 L774.2,106.2 L780.6,107.8 L786.9,109.5 L793.2,111.4 L799.4,113.4 L805.5,115.5 L811.5,117.7 L817.5,120.1 L817.5,120.1 L811.5,117.8 L805.4,115.7 L799.2,113.7 L793.0,111.9 L786.7,110.3 L780.3,108.8 L773.9,107.5 L767.4,106.3 L760.8,105.3 L754.2,104.4 L747.5,103.7 L740.7,103.1 L733.9,102.8 L727.0,102.5 L720.1,102.4 L713.2,102.5 L706.1,102.7 L699.1,103.1 L692.0,103.6 L684.8,104.3 L677.6,105.2 L670.3,106.2 L663.1,107.4 L655.7,108.7 L648.4,110.2 L641.0,111.8 L633.6,113.6 L626.1,115.5 L618.6,117.6 L611.1,119.8 L603.6,122.2 L596.1,124.8 L588.5,127.5 L580.9,130.3 L573.3,133.3 L565.7,136.5 L558.0,139.8 L550.4,143.2 L542.8,146.8 L535.1,150.5 L527.4,154.4 L519.8,158.4 L512.1,162.6 L504.5,166.9 L496.8,171.3 L489.1,175.9 L481.5,180.6 L473.9,185.5 L466.2,190.5 L458.6,195.6 L451.0,200.8 L443.5,206.2 L435.9,211.8 L428.4,217.4 L420.9,223.2 L413.4,229.1 L405.9,235.1 L398.5,241.2 L391.1,247.5 L383.7,253.9 L376.4,260.4 L369.1,267.0 L361.8,273.7 L354.6,280.6 L347.5,287.5 L340.3,294.6 L333.2,301.8 L326.2,309.0 L319.2,316.4 L312.3,323.9 L305.4,331.5 L298.6,339.1 L291.8,346.9 L285.1,354.8 L278.5,362.7 L271.9,370.8 L265.4,378.9 L258.9,387.1 L252.5,395.4 L246.2,403.8 L239.9,412.3 L233.8,420.8 L227.7,429.4 L221.6,438.1 L215.7,446.8 L209.8,455.7 L204.0,464.6 L198.3,473.5 L192.7,482.5Z" fill="#a9a9a9"/>
<path d="M147.0,454.8 L153.1,445.3 L159.3,435.9 L165.7,426.5 L172.1,417.2 L178.6,408.0 L185.3,398.9 L192.0,389.8 L198.8,380.8 L205.7,371.9 L212.7,363.1 L219.8,354.4 L227.0,345.7 L234.2,337.2 L241.6,328.8 L248.9,320.4 L256.4,312.2 L264.0,304.1 L271.6,296.0 L279.2,288.1 L287.0,280.3 L294.8,272.6 L302.6,265.1 L310.5,257.6 L318.5,250.3 L326.5,243.1 L334.6,236.1 L342.7,229.2 L350.8,222.4 L359.0,215.7 L367.2,209.2 L375.5,202.8 L383.8,196.6 L392.1,190.5 L400.4,184.5 L408.8,178.7 L417.2,173.1 L425.6,167.6 L434.0,162.3 L442.4,157.1 L450.8,152.0 L459.3,147.2 L467.7,142.5 L476.2,137.9 L484.6,133.5 L493.0,129.3 L501.5,125.3 L509.9,121.4 L518.3,117.7 L526.7,114.1 L535.0,110.8 L543.4,107.6 L551.7,104.5 L560.0,101.7 L568.3,99.0 L576.5,96.5 L584.7,94.2 L592.8,92.1 L600.9,90.1 L609.0,88.3 L617.0,86.7 L625.0,85.3 L632.9,84.0 L640.8,83.0 L648.6,82.1 L656.4,81.4 L664.1,80.9 L671.7,80.6 L679.2,80.4 L686.7,80.5 L694.1,80.7 L701.5,81.1 L708.7,81.6 L715.9,82.4 L723.0,83.4 L730.0,84.5 L737.0,85.8 L743.8,87.3 L750.6,89.0 L757.2,90.8 L763.8,92.8 L770.2,95.2 L776.5,97.9 L782.6,100.9 L788.6,104.2 L794.5,107.5 L800.2,110.9 L806.0,114.2 L811.7,117.3 L817.5,120.1 L817.5,120.1 L811.5,117.7 L805.5,115.3 L799.5,113.0 L793.4,110.7 L787.2,108.6 L780.9,106.6 L774.6,104.8 L768.2,103.2 L761.6,101.8 L755.0,100.6 L748.3,99.6 L741.6,98.7 L734.8,98.0 L727.9,97.5 L720.9,97.1 L713.9,96.9 L706.9,96.9 L699.7,97.0 L692.6,97.3 L685.3,97.7 L678.0,98.3 L670.7,99.1 L663.3,100.0 L655.9,101.1 L648.4,102.4 L640.9,103.8 L633.4,105.4 L625.8,107.1 L618.2,109.0 L610.5,111.1 L602.9,113.3 L595.2,115.7 L587.4,118.3 L579.7,121.0 L571.9,123.8 L564.1,126.8 L556.3,130.0 L548.5,133.3 L540.6,136.8 L532.8,140.4 L524.9,144.2 L517.0,148.1 L509.2,152.2 L501.3,156.5 L493.4,160.8 L485.5,165.4 L477.7,170.0 L469.8,174.9 L462.0,179.8 L454.1,184.9 L446.3,190.1 L438.5,195.5 L430.7,201.0 L422.9,206.7 L415.2,212.5 L407.5,218.4 L399.8,224.4 L392.1,230.6 L384.5,236.9 L376.9,243.3 L369.3,249.8 L361.8,256.5 L354.3,263.3 L346.8,270.2 L339.4,277.2 L332.1,284.3 L324.8,291.6 L317.5,298.9 L310.3,306.4 L303.1,314.0 L296.0,321.6 L289.0,329.4 L282.0,337.3 L275.1,345.2 L268.2,353.3 L261.4,361.5 L254.7,369.7 L248.1,378.0 L241.5,386.5 L235.0,395.0 L228.5,403.5 L222.2,412.2 L215.9,420.9 L209.7,429.7 L203.6,438.6 L197.6,447.6 L191.6,456.6 L185.7,465.7 L180.0,474.8Z" fill="url(#gDarkC)"/>
<path d="M139.8,450.4 L146.0,440.9 L152.4,431.4 L158.8,422.0 L165.3,412.6 L171.9,403.3 L178.7,394.1 L185.5,385.0 L192.4,375.9 L199.4,366.9 L206.5,358.1 L213.7,349.3 L221.0,340.6 L228.4,332.0 L235.8,323.5 L243.3,315.1 L250.9,306.8 L258.6,298.6 L266.3,290.5 L274.1,282.5 L281.9,274.7 L289.9,267.0 L297.9,259.4 L305.9,251.9 L314.0,244.5 L322.1,237.3 L330.3,230.2 L338.6,223.3 L346.8,216.4 L355.2,209.8 L363.5,203.2 L371.9,196.8 L380.3,190.6 L388.8,184.5 L397.2,178.5 L405.7,172.7 L414.2,167.1 L422.8,161.6 L431.3,156.2 L439.9,151.1 L448.4,146.0 L457.0,141.2 L465.6,136.5 L474.1,132.0 L482.7,127.6 L491.3,123.5 L499.8,119.4 L508.3,115.6 L516.9,111.9 L525.4,108.5 L533.8,105.1 L542.3,102.0 L550.7,99.0 L559.1,96.3 L567.5,93.7 L575.8,91.2 L584.1,89.0 L592.3,86.9 L600.5,85.1 L608.7,83.4 L616.8,81.9 L624.8,80.6 L632.8,79.4 L640.8,78.5 L648.7,77.7 L656.5,77.2 L664.2,76.8 L671.9,76.6 L679.5,76.5 L687.0,76.7 L694.5,77.1 L701.9,77.6 L709.1,78.4 L716.4,79.3 L723.5,80.4 L730.5,81.7 L737.5,83.1 L744.3,84.8 L751.1,86.6 L757.7,88.7 L764.3,90.9 L770.7,93.4 L776.9,96.4 L783.0,99.7 L788.9,103.2 L794.7,106.9 L800.4,110.5 L806.1,114.0 L811.7,117.2 L817.5,120.1 L817.5,120.1 L811.5,117.8 L805.4,115.7 L799.2,113.7 L793.0,111.9 L786.7,110.3 L780.3,108.8 L773.9,107.5 L767.4,106.3 L760.8,105.3 L754.2,104.4 L747.5,103.7 L740.7,103.1 L733.9,102.8 L727.0,102.5 L720.1,102.4 L713.2,102.5 L706.1,102.7 L699.1,103.1 L692.0,103.6 L684.8,104.3 L677.6,105.2 L670.3,106.2 L663.1,107.4 L655.7,108.7 L648.4,110.2 L641.0,111.8 L633.6,113.6 L626.1,115.5 L618.6,117.6 L611.1,119.8 L603.6,122.2 L596.1,124.8 L588.5,127.5 L580.9,130.3 L573.3,133.3 L565.7,136.5 L558.0,139.8 L550.4,143.2 L542.8,146.8 L535.1,150.5 L527.4,154.4 L519.8,158.4 L512.1,162.6 L504.5,166.9 L496.8,171.3 L489.1,175.9 L481.5,180.6 L473.9,185.5 L466.2,190.5 L458.6,195.6 L451.0,200.8 L443.5,206.2 L435.9,211.8 L428.4,217.4 L420.9,223.2 L413.4,229.1 L405.9,235.1 L398.5,241.2 L391.1,247.5 L383.7,253.9 L376.4,260.4 L369.1,267.0 L361.8,273.7 L354.6,280.6 L347.5,287.5 L340.3,294.6 L333.2,301.8 L326.2,309.0 L319.2,316.4 L312.3,323.9 L305.4,331.5 L298.6,339.1 L291.8,346.9 L285.1,354.8 L278.5,362.7 L271.9,370.8 L265.4,378.9 L258.9,387.1 L252.5,395.4 L246.2,403.8 L239.9,412.3 L233.8,420.8 L227.7,429.4 L221.6,438.1 L215.7,446.8 L209.8,455.7 L204.0,464.6 L198.3,473.5 L192.7,482.5Z" fill="url(#gDarkA)"/>
<path d="M660.0,123.2 L668.2,122.0 L676.4,121.0 L684.5,120.2 L692.6,119.6 L700.6,119.2 L708.6,119.0 L716.5,119.1 L724.3,119.3 L732.0,119.8 L739.7,120.4 L747.3,121.3 L754.9,122.4 L762.4,123.6 L769.8,125.1 L777.1,126.7 L784.4,128.6 L791.6,130.7 L798.6,133.0 L805.6,135.6 L812.3,138.4 L818.8,141.5 L825.3,144.8 L831.6,148.3 L837.8,152.0 L843.9,155.8 L849.9,159.9 L855.8,164.2 L861.5,168.7 L867.8,173.1 L874.0,177.6 L880.2,182.4 L886.2,187.3 L892.0,192.5 L897.8,197.9 L902.9,203.7 L907.8,209.7 L912.6,215.8 L917.3,222.2 L921.8,228.7 L926.2,235.4 L930.4,242.3 L934.5,249.4 L938.5,256.6 L942.3,264.1 L945.9,271.7 L949.3,279.4 L952.6,287.3 L955.8,295.4 L958.8,303.7 L961.6,312.1 L964.3,320.6 L966.8,329.3 L969.1,338.1 L971.3,347.1 L973.4,356.2 L975.2,365.5 L976.9,374.9 L978.5,384.4 L979.8,394.0 L981.0,403.8 L982.1,413.7 L982.9,423.7 L983.6,433.8 L984.2,444.0 L984.5,454.3 L984.5,464.8 L984.3,475.3 L983.9,485.8 L983.3,496.5 L982.6,507.3 L981.7,518.1 L980.6,529.0 L979.4,540.0 L978.0,551.0 L976.4,562.1 L974.7,573.2 L972.7,584.4 L970.7,595.7 L968.4,606.9 L966.0,618.3 L963.4,629.6 L960.7,641.0 L957.8,652.4 L954.8,663.9 L951.5,675.3 L948.2,686.8 L944.6,698.3 L940.9,709.8 L937.1,721.3 L933.1,732.8 L928.9,744.3 L924.6,755.7 L920.1,767.2 L915.4,778.6 L910.6,789.9 L905.6,801.3 L900.5,812.6 L895.2,823.9 L889.8,835.1 L884.3,846.3 L878.6,857.4 L872.8,868.5 L821.5,840.1 L826.9,829.5 L832.2,818.9 L837.3,808.3 L842.3,797.6 L847.3,786.9 L852.0,776.2 L856.7,765.5 L861.2,754.7 L865.6,744.0 L869.9,733.2 L874.0,722.4 L878.0,711.6 L881.8,700.8 L885.5,690.0 L889.1,679.2 L892.5,668.5 L895.8,657.7 L898.9,647.0 L901.9,636.3 L904.8,625.6 L907.5,614.9 L910.0,604.3 L912.5,593.7 L914.7,583.2 L916.8,572.7 L918.8,562.2 L920.6,551.8 L922.2,541.5 L923.7,531.2 L925.1,521.0 L926.3,510.8 L927.3,500.8 L928.2,490.8 L928.9,480.8 L929.5,471.0 L929.9,461.2 L930.1,451.5 L930.2,441.9 L930.2,432.4 L930.0,423.0 L929.6,413.7 L929.1,404.6 L928.4,395.5 L927.6,386.5 L926.6,377.6 L925.5,368.9 L924.2,360.2 L922.7,351.7 L921.1,343.4 L919.4,335.1 L917.5,327.0 L915.4,319.0 L913.2,311.1 L910.9,303.4 L908.3,295.9 L905.7,288.4 L902.9,281.2 L899.9,274.0 L896.8,267.1 L893.6,260.2 L890.2,253.6 L886.7,247.1 L883.0,240.7 L879.2,234.5 L875.3,228.5 L871.2,222.7 L867.0,217.0 L862.7,211.5 L858.2,206.2 L853.6,201.0 L848.8,196.0 L844.0,191.2 L839.0,186.6 L833.9,182.2 L828.6,177.9 L823.3,173.9 L817.8,170.0 L812.2,166.3 L806.5,162.8 L800.7,159.5 L794.7,156.4 L788.7,153.5 L782.5,150.7 L776.3,148.2 L769.9,145.9 L763.5,143.7 L756.9,141.8 L750.3,140.0 L743.5,138.5 L736.7,137.2 L729.8,136.0 L722.8,135.1 L715.7,134.3 L708.5,133.8 L701.2,133.4 L693.9,133.3 L686.5,133.3 L679.0,133.6 L671.5,134.1 L663.9,134.7 L656.2,135.6 L648.5,136.6Z" fill="url(#gFace)"/>
<path d="M197.5,485.5 L204.1,475.4 L210.8,465.4 L217.6,455.5 L224.5,445.7 L231.5,436.0 L238.6,426.4 L245.7,416.9 L253.0,407.5 L260.3,398.2 L267.7,389.0 L275.2,380.0 L282.7,371.0 L290.3,362.2 L298.0,353.4 L305.8,344.8 L313.6,336.4 L321.5,328.0 L329.4,319.8 L337.4,311.7 L345.5,303.8 L353.6,296.0 L361.7,288.3 L369.9,280.8 L378.2,273.4 L386.4,266.1 L394.8,259.0 L403.1,252.1 L411.5,245.3 L420.0,238.7 L428.4,232.2 L436.9,225.9 L445.5,219.6 L454.0,213.6 L462.6,207.6 L471.3,201.9 L479.9,196.3 L488.5,190.9 L497.2,185.7 L505.9,180.7 L514.5,175.9 L523.2,171.3 L531.8,166.8 L540.5,162.6 L549.1,158.5 L557.8,154.6 L566.4,150.9 L575.0,147.5 L583.6,144.1 L592.2,141.0 L600.8,138.1 L609.4,135.3 L617.9,132.8 L626.4,130.5 L634.8,128.3 L643.3,126.4 L651.7,124.7 L660.0,123.2 L668.2,122.0 L656.2,135.6 L648.5,136.6 L640.7,137.9 L632.9,139.4 L625.0,141.0 L617.0,142.9 L609.0,144.9 L601.0,147.2 L592.9,149.6 L584.8,152.3 L576.6,155.1 L568.4,158.1 L560.2,161.4 L552.0,164.8 L543.7,168.4 L535.4,172.2 L527.1,176.2 L518.8,180.3 L510.4,184.7 L502.1,189.2 L493.7,194.0 L485.4,198.9 L477.0,203.9 L468.7,209.2 L460.3,214.6 L452.0,220.2 L443.6,226.0 L435.3,231.9 L427.0,238.0 L418.7,244.3 L410.4,250.7 L402.2,257.3 L394.0,264.1 L385.8,271.0 L377.6,278.1 L369.5,285.3 L361.4,292.6 L353.4,300.2 L345.4,307.8 L337.5,315.6 L329.6,323.5 L321.7,331.6 L314.0,339.8 L306.2,348.1 L298.6,356.6 L291.0,365.1 L283.4,373.8 L276.0,382.7 L268.6,391.6 L261.2,400.6 L254.0,409.8 L246.8,419.0 L239.7,428.4 L232.7,437.8 L225.8,447.4 L219.0,457.0 L212.3,466.8 L205.6,476.6 L199.1,486.5Z" fill="url(#gFaceL)"/>
<path d="M191.9,482.0 L198.6,471.3 L205.5,460.6 L212.5,450.1 L219.6,439.6 L226.7,429.2 L234.0,419.0 L241.4,408.8 L248.9,398.8 L256.5,388.9 L264.2,379.1 L272.0,369.4 L279.9,359.9 L287.8,350.5 L295.8,341.2 L304.0,332.1 L312.2,323.0 L320.4,314.2 L328.8,305.4 L337.2,296.9 L345.6,288.4 L354.2,280.2 L362.7,272.0 L371.4,264.1 L380.1,256.3 L388.8,248.7 L397.6,241.2 L406.5,233.9 L415.3,226.8 L424.3,219.8 L433.2,213.1 L442.2,206.5 L451.2,200.1 L460.2,193.8 L469.3,187.8 L478.4,182.0 L487.4,176.3 L496.5,170.8 L505.6,165.6 L514.7,160.5 L523.9,155.6 L533.0,151.0 L542.1,146.5 L551.2,142.3 L560.2,138.2 L569.3,134.4 L578.4,130.7 L587.4,127.3 L596.4,124.1 L605.4,121.1 L614.3,118.3 L623.2,115.7 L632.1,113.4 L640.9,111.2 L649.7,109.3 L658.4,107.6 L667.1,106.1 L675.7,104.8 L684.3,103.8 L692.8,103.0 L701.3,102.4 L709.7,102.0 L718.0,101.8 L726.2,101.8 L734.4,102.1 L742.5,102.6 L750.5,103.3 L758.4,104.3 L766.2,105.4 L774.0,106.8 L781.6,108.4 L789.2,110.2 L796.6,112.2 L804.0,114.5 L811.3,116.9 L818.4,119.6 L825.4,122.5 L832.4,125.6 L839.2,128.9 L845.9,132.5 L852.4,136.2 L858.9,140.2 L865.2,144.3 L871.4,148.7 L877.5,153.2 L883.5,158.0 L889.3,163.0 L894.9,168.1 L900.5,173.5 L905.9,179.0 L911.2,184.8 L916.3,190.7 L921.2,196.9 L926.1,203.2 L930.8,209.7 L935.3,216.3 L939.7,223.2 L943.9,230.2 L948.0,237.4 L951.9,244.8 L955.6,252.4 L959.2,260.1 L962.7,268.0 L965.9,276.0 L969.1,284.2 L972.0,292.5 L974.8,301.0 L977.4,309.7 L979.9,318.5 L982.1,327.4 L984.3,336.5 L986.2,345.7 L988.0,355.0 L989.6,364.5 L991.0,374.1 L992.3,383.8 L993.4,393.7 L994.3,403.6 L995.0,413.7 L995.6,423.8 L996.0,434.1 L996.2,444.5 L996.3,455.0 L996.2,465.5 L995.9,476.2 L995.4,486.9 L994.8,497.7 L993.9,508.6 L992.9,519.6 L991.8,530.6 L990.4,541.7 L988.9,552.9 L987.3,564.1 L985.4,575.3 L983.4,586.6 L981.2,598.0 L978.9,609.4 L976.3,620.8 L973.6,632.3 L970.8,643.8 L967.8,655.3 L964.6,666.9 L961.3,678.4 L957.7,690.0 L954.1,701.5 L950.3,713.1 L946.3,724.7 L942.1,736.3 L937.9,747.8 L933.4,759.4 L928.8,770.9 L924.1,782.4 L919.2,793.9 L914.2,805.3 L909.0,816.7 L903.7,828.1 L898.2,839.4 L892.6,850.7 L886.9,861.9 L881.0,873.1 L872.0,868.1 L877.8,857.0 L883.5,845.9 L889.0,834.7 L894.4,823.5 L899.6,812.2 L904.8,800.9 L909.7,789.6 L914.6,778.2 L919.3,766.8 L923.8,755.4 L928.1,743.9 L932.3,732.5 L936.2,721.0 L940.1,709.5 L943.8,698.0 L947.3,686.5 L950.7,675.1 L953.9,663.6 L956.9,652.2 L959.8,640.8 L962.6,629.4 L965.1,618.1 L967.5,606.7 L969.8,595.5 L971.9,584.2 L973.8,573.0 L975.5,561.9 L977.1,550.8 L978.5,539.8 L979.7,528.9 L980.8,518.0 L981.7,507.2 L982.4,496.4 L983.0,485.8 L983.4,475.2 L983.6,464.7 L983.6,454.3 L983.3,444.0 L982.7,433.8 L982.0,423.7 L981.2,413.7 L980.1,403.8 L978.9,394.1 L977.6,384.4 L976.0,374.9 L974.3,365.6 L972.5,356.3 L970.4,347.2 L968.3,338.2 L965.9,329.4 L963.4,320.7 L960.7,312.2 L957.9,303.8 L954.9,295.6 L951.8,287.5 L948.5,279.6 L945.0,271.9 L941.4,264.3 L937.6,256.9 L933.7,249.6 L929.6,242.6 L925.3,235.7 L921.0,229.0 L916.4,222.5 L911.8,216.1 L907.0,210.0 L902.0,204.0 L897.0,198.2 L891.2,192.8 L885.3,187.7 L879.3,182.7 L873.2,178.0 L867.0,173.4 L860.7,169.1 L855.0,164.6 L849.1,160.4 L843.1,156.3 L837.0,152.4 L830.8,148.7 L824.5,145.2 L818.1,142.0 L811.5,138.9 L804.9,136.0 L797.9,133.5 L790.8,131.2 L783.7,129.2 L776.4,127.3 L769.1,125.6 L761.7,124.2 L754.2,122.9 L746.6,121.9 L739.0,121.0 L731.3,120.4 L723.6,119.9 L715.8,119.7 L707.9,119.6 L700.0,119.8 L692.0,120.2 L683.9,120.8 L675.8,121.6 L667.6,122.6 L659.4,123.9 L651.1,125.4 L642.7,127.1 L634.3,129.0 L625.8,131.2 L617.4,133.5 L608.8,136.1 L600.3,138.8 L591.7,141.7 L583.1,144.9 L574.5,148.2 L565.9,151.7 L557.3,155.4 L548.7,159.3 L540.1,163.4 L531.4,167.6 L522.8,172.1 L514.1,176.7 L505.5,181.5 L496.9,186.5 L488.2,191.7 L479.6,197.2 L470.9,202.7 L462.3,208.5 L453.8,214.4 L445.2,220.5 L436.7,226.8 L428.2,233.1 L419.8,239.5 L411.4,246.2 L403.0,253.0 L394.6,259.9 L386.3,267.0 L378.1,274.3 L369.8,281.7 L361.7,289.2 L353.5,296.9 L345.4,304.7 L337.4,312.6 L329.5,320.7 L321.5,328.9 L313.7,337.3 L305.9,345.7 L298.2,354.3 L290.5,363.0 L282.9,371.9 L275.4,380.8 L268.0,389.9 L260.6,399.1 L253.3,408.3 L246.1,417.7 L239.0,427.2 L232.0,436.8 L225.1,446.4 L218.2,456.2 L211.5,466.0 L204.8,476.0 L198.3,486.0Z" fill="url(#gSide)"/>
<defs><linearGradient id="gFadeK" gradientUnits="userSpaceOnUse" x1="0" y1="340" x2="0" y2="560"><stop offset="0" stop-color="#000" stop-opacity="0"/><stop offset="1" stop-color="#000" stop-opacity="1"/></linearGradient><linearGradient id="gFadeD" gradientUnits="userSpaceOnUse" x1="0" y1="280" x2="0" y2="520"><stop offset="0" stop-color="#8c8c8c" stop-opacity="0"/><stop offset="1" stop-color="#8c8c8c" stop-opacity="0.8"/></linearGradient><linearGradient id="gFadeL" gradientUnits="userSpaceOnUse" x1="0" y1="280" x2="0" y2="520"><stop offset="0" stop-color="#c2c2c2" stop-opacity="0"/><stop offset="1" stop-color="#c2c2c2" stop-opacity="0.8"/></linearGradient></defs>
<path d="M924.2,360.2 L925.5,368.9 L926.6,377.6 L927.6,386.5 L928.4,395.5 L929.1,404.6 L929.6,413.7 L930.0,423.0 L930.2,432.4 L930.2,441.9 L930.1,451.5 L929.9,461.2 L929.5,471.0 L928.9,480.8 L928.2,490.8 L927.3,500.8 L926.3,510.8 L925.1,521.0 L923.7,531.2 L922.2,541.5 L920.6,551.8 L918.8,562.2 L916.8,572.7 L914.7,583.2 L912.5,593.7 L910.0,604.3 L907.5,614.9 L904.8,625.6 L901.9,636.3 L898.9,647.0 L895.8,657.7 L892.5,668.5 L889.1,679.2 L885.5,690.0 L881.8,700.8 L878.0,711.6 L874.0,722.4 L869.9,733.2 L865.6,744.0 L861.2,754.7 L856.7,765.5 L852.0,776.2 L847.3,786.9 L842.3,797.6 L837.3,808.3 L832.2,818.9 L826.9,829.5 L821.5,840.1 L825.0,842.0 L830.4,831.4 L835.8,820.8 L840.9,810.1 L846.0,799.4 L850.9,788.7 L855.7,778.0 L860.4,767.2 L864.9,756.4 L869.4,745.6 L873.6,734.7 L877.8,723.9 L881.8,713.1 L885.6,702.2 L889.3,691.4 L892.9,680.6 L896.4,669.7 L899.6,658.9 L902.8,648.1 L905.8,637.4 L908.6,626.7 L911.3,615.9 L913.9,605.3 L916.3,594.6 L918.6,584.0 L920.7,573.5 L922.6,563.0 L924.4,552.5 L926.1,542.2 L927.6,531.8 L928.9,521.6 L930.1,511.3 L931.1,501.2 L932.0,491.2 L932.7,481.2 L933.2,471.3 L933.6,461.5 L933.9,451.7 L934.0,442.1 L933.9,432.5 L933.6,423.1 L933.2,413.7 L932.7,404.5 L932.0,395.4 L931.1,386.3 L930.1,377.4 L928.9,368.6 L927.6,360.0Z" fill="url(#gFadeK)" opacity="0.20"/>
<path d="M927.6,360.0 L928.9,368.6 L930.1,377.4 L931.1,386.3 L932.0,395.4 L932.7,404.5 L933.2,413.7 L933.6,423.1 L933.9,432.5 L934.0,442.1 L933.9,451.7 L933.6,461.5 L933.2,471.3 L932.7,481.2 L932.0,491.2 L931.1,501.2 L930.1,511.3 L928.9,521.6 L927.6,531.8 L926.1,542.2 L924.4,552.5 L922.6,563.0 L920.7,573.5 L918.6,584.0 L916.3,594.6 L913.9,605.3 L911.3,615.9 L908.6,626.7 L905.8,637.4 L902.8,648.1 L899.6,658.9 L896.4,669.7 L892.9,680.6 L889.3,691.4 L885.6,702.2 L881.8,713.1 L877.8,723.9 L873.6,734.7 L869.4,745.6 L864.9,756.4 L860.4,767.2 L855.7,778.0 L850.9,788.7 L846.0,799.4 L840.9,810.1 L835.8,820.8 L830.4,831.4 L825.0,842.0 L828.6,844.0 L834.0,833.4 L839.3,822.7 L844.6,812.0 L849.6,801.2 L854.6,790.5 L859.4,779.7 L864.1,768.9 L868.7,758.0 L873.1,747.2 L877.4,736.3 L881.6,725.4 L885.6,714.5 L889.4,703.6 L893.2,692.7 L896.7,681.9 L900.2,671.0 L903.5,660.1 L906.6,649.3 L909.6,638.5 L912.5,627.7 L915.2,617.0 L917.8,606.2 L920.2,595.5 L922.4,584.9 L924.5,574.3 L926.5,563.8 L928.3,553.3 L929.9,542.8 L931.4,532.4 L932.7,522.1 L933.9,511.8 L934.9,501.7 L935.8,491.6 L936.5,481.5 L937.0,471.6 L937.4,461.7 L937.6,451.9 L937.7,442.2 L937.6,432.6 L937.3,423.1 L936.8,413.7 L936.2,404.4 L935.5,395.3 L934.6,386.2 L933.5,377.2 L932.3,368.4 L930.9,359.7Z" fill="url(#gFadeK)" opacity="0.13"/>
<path d="M930.9,359.7 L932.3,368.4 L933.5,377.2 L934.6,386.2 L935.5,395.3 L936.2,404.4 L936.8,413.7 L937.3,423.1 L937.6,432.6 L937.7,442.2 L937.6,451.9 L937.4,461.7 L937.0,471.6 L936.5,481.5 L935.8,491.6 L934.9,501.7 L933.9,511.8 L932.7,522.1 L931.4,532.4 L929.9,542.8 L928.3,553.3 L926.5,563.8 L924.5,574.3 L922.4,584.9 L920.2,595.5 L917.8,606.2 L915.2,617.0 L912.5,627.7 L909.6,638.5 L906.6,649.3 L903.5,660.1 L900.2,671.0 L896.7,681.9 L893.2,692.7 L889.4,703.6 L885.6,714.5 L881.6,725.4 L877.4,736.3 L873.1,747.2 L868.7,758.0 L864.1,768.9 L859.4,779.7 L854.6,790.5 L849.6,801.2 L844.6,812.0 L839.3,822.7 L834.0,833.4 L828.6,844.0 L833.6,846.8 L839.1,836.1 L844.5,825.4 L849.7,814.6 L854.8,803.8 L859.8,793.0 L864.7,782.1 L869.4,771.3 L874.0,760.4 L878.5,749.4 L882.8,738.5 L887.0,727.6 L891.0,716.6 L894.9,705.6 L898.6,694.7 L902.2,683.7 L905.7,672.8 L909.0,661.9 L912.1,651.0 L915.1,640.1 L918.0,629.2 L920.7,618.4 L923.3,607.6 L925.7,596.8 L927.9,586.1 L930.0,575.5 L932.0,564.8 L933.8,554.3 L935.4,543.7 L936.9,533.3 L938.2,522.9 L939.3,512.6 L940.3,502.3 L941.2,492.1 L941.9,482.0 L942.4,472.0 L942.8,462.0 L943.0,452.2 L943.0,442.4 L942.8,432.8 L942.5,423.2 L942.0,413.7 L941.4,404.4 L940.5,395.1 L939.6,386.0 L938.5,377.0 L937.2,368.1 L935.8,359.3Z" fill="url(#gFadeK)" opacity="0.06"/>
<path d="M913.2,247.1 L917.0,254.0 L920.7,261.1 L924.2,268.3 L927.5,275.7 L930.7,283.3 L933.7,291.0 L936.6,298.8 L939.3,306.9 L941.9,315.0 L944.3,323.3 L946.6,331.8 L948.7,340.4 L950.6,349.1 L952.4,357.9 L954.1,366.9 L955.5,376.0 L956.8,385.3 L958.0,394.6 L959.0,404.1 L959.8,413.7 L960.4,423.4 L960.9,433.2 L961.3,443.1 L961.4,453.1 L961.3,463.2 L961.0,473.4 L960.5,483.7 L959.9,494.1 L959.1,504.5 L958.2,515.0 L957.0,525.6 L955.8,536.2 L954.3,547.0 L952.7,557.7 L950.9,568.6 L949.0,579.4 L946.9,590.4 L944.7,601.3 L942.3,612.3 L939.7,623.4 L937.0,634.5 L934.1,645.6 L931.1,656.7 L927.9,667.9 L924.6,679.0 L921.1,690.2 L917.4,701.4 L913.7,712.6 L909.7,723.8 L905.6,735.0 L901.4,746.2 L897.0,757.3 L892.4,768.5 L887.7,779.6 L882.9,790.7 L877.9,801.7 L872.8,812.7 L867.5,823.7 L862.2,834.7 L856.7,845.6 L851.0,856.4" fill="none" stroke="url(#gFadeD)" stroke-width="1"/>
<path d="M914.2,246.9 L918.0,253.8 L921.7,260.8 L925.2,268.1 L928.6,275.5 L931.8,283.0 L934.8,290.8 L937.7,298.6 L940.5,306.7 L943.1,314.8 L945.5,323.2 L947.8,331.6 L949.9,340.2 L951.8,349.0 L953.6,357.8 L955.3,366.8 L956.8,376.0 L958.1,385.2 L959.2,394.6 L960.2,404.1 L961.1,413.7 L961.7,423.4 L962.3,433.3 L962.6,443.2 L962.8,453.2 L962.6,463.3 L962.3,473.5 L961.9,483.8 L961.3,494.2 L960.5,504.7 L959.5,515.2 L958.4,525.8 L957.1,536.5 L955.7,547.2 L954.1,558.0 L952.3,568.8 L950.4,579.7 L948.3,590.7 L946.1,601.7 L943.7,612.7 L941.1,623.8 L938.4,634.9 L935.5,646.0 L932.5,657.1 L929.3,668.3 L925.9,679.5 L922.5,690.7 L918.8,701.9 L915.0,713.1 L911.1,724.3 L907.0,735.5 L902.8,746.7 L898.3,757.9 L893.8,769.0 L889.0,780.2 L884.2,791.3 L879.2,802.3 L874.1,813.4 L868.8,824.4 L863.5,835.4 L857.9,846.3 L852.3,857.1" fill="none" stroke="url(#gFadeL)" stroke-width="1.2"/>
<g transform="translate(185.0,451.0) rotate(-52.0) scale(1.00)"><ellipse cx="0" cy="0" rx="7.4" ry="4.8" fill="#878787"/><ellipse cx="1" cy="0.9" rx="6.5" ry="3.9" fill="#b7b7b7"/><ellipse cx="0" cy="0" rx="7.4" ry="4.8" fill="#000" opacity="0.00"/></g>
<g transform="translate(296.0,319.5) rotate(-42.0) scale(1.00)"><ellipse cx="0" cy="0" rx="7.4" ry="4.8" fill="#878787"/><ellipse cx="1" cy="0.9" rx="6.5" ry="3.9" fill="#b7b7b7"/><ellipse cx="0" cy="0" rx="7.4" ry="4.8" fill="#000" opacity="0.00"/></g>
<g transform="translate(412.5,212.0) rotate(-33.0) scale(0.95)"><ellipse cx="0" cy="0" rx="7.4" ry="4.8" fill="#878787"/><ellipse cx="1" cy="0.9" rx="6.5" ry="3.9" fill="#b7b7b7"/><ellipse cx="0" cy="0" rx="7.4" ry="4.8" fill="#000" opacity="0.05"/></g>
<g transform="translate(476.0,173.5) rotate(-27.0) scale(0.90)"><ellipse cx="0" cy="0" rx="7.4" ry="4.8" fill="#878787"/><ellipse cx="1" cy="0.9" rx="6.5" ry="3.9" fill="#b7b7b7"/><ellipse cx="0" cy="0" rx="7.4" ry="4.8" fill="#000" opacity="0.10"/></g>
<g transform="translate(538.5,142.0) rotate(-20.0) scale(0.85)"><ellipse cx="0" cy="0" rx="7.4" ry="4.8" fill="#878787"/><ellipse cx="1" cy="0.9" rx="6.5" ry="3.9" fill="#b7b7b7"/><ellipse cx="0" cy="0" rx="7.4" ry="4.8" fill="#000" opacity="0.18"/></g>
<g transform="translate(654.0,105.5) rotate(-5.0) scale(0.70)"><ellipse cx="0" cy="0" rx="7.4" ry="4.8" fill="#878787"/><ellipse cx="1" cy="0.9" rx="6.5" ry="3.9" fill="#b7b7b7"/><ellipse cx="0" cy="0" rx="7.4" ry="4.8" fill="#000" opacity="0.30"/></g>
<circle cx="843.5" cy="193.0" r="2.7" fill="#868686"/><circle cx="844.0" cy="193.5" r="1.7" fill="#b9b9b9"/>
<circle cx="901.7" cy="275.0" r="2.7" fill="#868686"/><circle cx="902.2" cy="275.5" r="1.7" fill="#b9b9b9"/>
<circle cx="933.0" cy="391.7" r="2.7" fill="#868686"/><circle cx="933.5" cy="392.2" r="1.7" fill="#b9b9b9"/>
<circle cx="931.9" cy="526.9" r="2.7" fill="#868686"/><circle cx="932.4" cy="527.4" r="1.7" fill="#b9b9b9"/>
<circle cx="901.9" cy="676.9" r="2.7" fill="#868686"/><circle cx="902.4" cy="677.4" r="1.7" fill="#b9b9b9"/>
<circle cx="841.9" cy="828.8" r="2.7" fill="#868686"/><circle cx="842.4" cy="829.2" r="1.7" fill="#b9b9b9"/>
</g>
<line x1="645" y1="184" x2="654" y2="142.5" stroke="#8a8a8a" stroke-width="1.1"/>
<path d="M645.0,184.0 L580.5,635.5 L581.5,641.0 L586.0,643.5 L589.5,642.0" fill="none" stroke="#6e6e6e" stroke-width="4" stroke-linecap="round" stroke-linejoin="round"/>
<path d="M645.0,184.0 L580.5,635.5 L581.5,641.0 L586.0,643.5 L589.5,642.0" fill="none" stroke="#cfcfcf" stroke-width="2" stroke-linecap="round" stroke-linejoin="round"/>
<circle cx="589.5" cy="642.0" r="2.6" fill="#bdbdbd" stroke="#6e6e6e" stroke-width="1"/>
<g transform="translate(598.0,490.0) rotate(8.1)">
<rect x="-10" y="-3.2" width="20" height="6.4" fill="#fff"/>
<path d="M-11,-3.2 q5.5,-4 11,0 t11,0" fill="none" stroke="#6e6e6e" stroke-width="1.1"/>
<path d="M-11,3.2 q5.5,-4 11,0 t11,0" fill="none" stroke="#6e6e6e" stroke-width="1.1"/>
</g>
<line x1="729" y1="181" x2="755" y2="147.5" stroke="#8a8a8a" stroke-width="1.1"/>
<path d="M729.0,181.0 L464.5,574.5 L460.0,579.0 L455.0,579.5 L452.5,576.5" fill="none" stroke="#6e6e6e" stroke-width="4" stroke-linecap="round" stroke-linejoin="round"/>
<path d="M729.0,181.0 L464.5,574.5 L460.0,579.0 L455.0,579.5 L452.5,576.5" fill="none" stroke="#cfcfcf" stroke-width="2" stroke-linecap="round" stroke-linejoin="round"/>
<circle cx="452.5" cy="576.5" r="2.6" fill="#bdbdbd" stroke="#6e6e6e" stroke-width="1"/>
<g transform="translate(536.7,471.0) rotate(33.9)">
<rect x="-10" y="-3.2" width="20" height="6.4" fill="#fff"/>
<path d="M-11,-3.2 q5.5,-4 11,0 t11,0" fill="none" stroke="#6e6e6e" stroke-width="1.1"/>
<path d="M-11,3.2 q5.5,-4 11,0 t11,0" fill="none" stroke="#6e6e6e" stroke-width="1.1"/>
</g>
<line x1="665.5" y1="68" x2="659.5" y2="107" stroke="#8a8a8a" stroke-width="1.1"/>
<line x1="822.5" y1="45" x2="782.5" y2="107.5" stroke="#8a8a8a" stroke-width="1.1"/>
<g transform="translate(668.5,39.0) rotate(8.0)"><path d="M-4.6,3 L-4.2,27 Q0,29.5 4.2,27 L4.6,3 Z" fill="#9a9a9a" stroke="#666" stroke-width="0.8"/><path d="M-4.4,14 L4.4,14 M-4.3,17.5 L4.3,17.5 M-4.3,21 L4.3,21 M-4.2,24.5 L4.2,24.5" stroke="#777" stroke-width="0.8"/><path d="M-8,0 Q-8,5 -4.6,7 L4.6,7 Q8,5 8,0 Z" fill="#8a8a8a" stroke="#666" stroke-width="0.8"/><ellipse cx="0" cy="0" rx="8" ry="3.8" fill="#b5b5b5" stroke="#666" stroke-width="0.9"/><path d="M-5,0.3 L5,-0.3" stroke="#777" stroke-width="1.3"/></g>
<g transform="translate(838.5,22.5) rotate(27.0)"><path d="M-4.6,3 L-4.2,27 Q0,29.5 4.2,27 L4.6,3 Z" fill="#9a9a9a" stroke="#666" stroke-width="0.8"/><path d="M-4.4,14 L4.4,14 M-4.3,17.5 L4.3,17.5 M-4.3,21 L4.3,21 M-4.2,24.5 L4.2,24.5" stroke="#777" stroke-width="0.8"/><path d="M-8,0 Q-8,5 -4.6,7 L4.6,7 Q8,5 8,0 Z" fill="#8a8a8a" stroke="#666" stroke-width="0.8"/><ellipse cx="0" cy="0" rx="8" ry="3.8" fill="#b5b5b5" stroke="#666" stroke-width="0.9"/><path d="M-5,0.3 L5,-0.3" stroke="#777" stroke-width="1.3"/></g>
<defs>
<linearGradient id="gCylA" x1="0" y1="0" x2="0" y2="1"><stop offset="0" stop-color="#8f8f8f"/><stop offset="0.25" stop-color="#8a8a8a"/><stop offset="0.6" stop-color="#7c7c7c"/><stop offset="1" stop-color="#6a6a6a"/></linearGradient>
<linearGradient id="gCylB" x1="0" y1="0" x2="0" y2="1"><stop offset="0" stop-color="#6a6a6a"/><stop offset="0.12" stop-color="#808080"/><stop offset="0.45" stop-color="#8e8e8e"/><stop offset="0.8" stop-color="#7c7c7c"/><stop offset="1" stop-color="#585858"/></linearGradient>
<linearGradient id="gAxle" x1="0" y1="0" x2="0" y2="1"><stop offset="0" stop-color="#9c9c9c"/><stop offset="0.3" stop-color="#909090"/><stop offset="0.7" stop-color="#787878"/><stop offset="1" stop-color="#5e5e5e"/></linearGradient>
<linearGradient id="gHole" x1="0" y1="0" x2="1" y2="0"><stop offset="0" stop-color="#6e6e6e"/><stop offset="1" stop-color="#a4a4a4"/></linearGradient>
<linearGradient id="gBody" x1="0" y1="0" x2="0" y2="1"><stop offset="0" stop-color="#404040"/><stop offset="0.1" stop-color="#6c6c6c"/><stop offset="0.45" stop-color="#8e8e8e"/><stop offset="0.8" stop-color="#7a7a7a"/><stop offset="0.93" stop-color="#5c5c5c"/><stop offset="1" stop-color="#484848"/></linearGradient>
<radialGradient id="gFillet" cx="0.5" cy="0.5" r="0.5"><stop offset="0.5" stop-color="#ababab"/><stop offset="0.75" stop-color="#a0a0a0" stop-opacity="0.9"/><stop offset="1" stop-color="#757575" stop-opacity="0"/></radialGradient>
</defs>
<g transform="translate(180.0,552.5) rotate(29.59)">
<line x1="8.0" y1="0" x2="1165.0" y2="0" stroke="#8a8a8a" stroke-width="1.3"/>
<path d="M-14.0,-21.7 L10.0,-21.7 A13.9,21.7 0 0 1 10.0,21.7 L-14.0,21.7 A13.9,21.7 0 0 1 -14.0,-21.7 Z" fill="url(#gCylA)" />
<ellipse cx="10.0" cy="0.0" rx="13.9" ry="21.7" fill="#a9a9a9" />
<ellipse cx="10.0" cy="0.0" rx="11.1" ry="17.4" fill="url(#gHole)" />
<rect x="-12" y="-17" width="7" height="5" fill="#6c6c6c"/>
<path d="M50.0,-21.5 L56.0,-21.5 A13.8,21.5 0 0 1 56.0,21.5 L50.0,21.5 A13.8,21.5 0 0 1 50.0,-21.5 Z" fill="#7a7a7a" />
<ellipse cx="56.0" cy="0.0" rx="13.8" ry="21.5" fill="#8c8c8c" />
<path d="M56.0,-17.0 L62.0,-17.0 A10.9,17.0 0 0 1 62.0,17.0 L56.0,17.0 A10.9,17.0 0 0 1 56.0,-17.0 Z" fill="#6c6c6c" />
<path d="M62.0,-20.0 L65.0,-20.0 A12.8,20.0 0 0 1 65.0,20.0 L62.0,20.0 A12.8,20.0 0 0 1 62.0,-20.0 Z" fill="#858585" />
<ellipse cx="65.0" cy="0.0" rx="12.8" ry="20.0" fill="#969696" />
<path d="M65.0,-14.5 L80.0,-14.5 A9.3,14.5 0 0 1 80.0,14.5 L65.0,14.5 A9.3,14.5 0 0 1 65.0,-14.5 Z" fill="url(#gCylA)" />
<ellipse cx="80.0" cy="0.0" rx="9.3" ry="14.5" fill="#a6a6a6" />
<ellipse cx="80.0" cy="0.0" rx="6.7" ry="10.5" fill="url(#gHole)" />
<line x1="2.0" y1="0" x2="40.0" y2="0" stroke="#e8e8e8" stroke-width="2.2"/>
<line x1="2.0" y1="0" x2="44.0" y2="0" stroke="#8a8a8a" stroke-width="1.3"/>
<line x1="76.0" y1="0" x2="110.0" y2="0" stroke="#e8e8e8" stroke-width="2.2"/>
<line x1="76.0" y1="0" x2="112.0" y2="0" stroke="#8a8a8a" stroke-width="1.3"/>
<path d="M120.5,-35.0 L124.0,-35.0 A22.4,35.0 0 0 1 124.0,35.0 L120.5,35.0 A22.4,35.0 0 0 1 120.5,-35.0 Z" fill="#686868" />
<path fill-rule="evenodd" fill="#939393" d="M101.6,0 a22.4,35.0 0 1 0 44.8,0 a22.4,35.0 0 1 0 -44.8,0 Z M109.9,0 a14.1,22.0 0 1 0 28.2,0 a14.1,22.0 0 1 0 -28.2,0 Z"/>
<clipPath id="clipw10"><ellipse cx="124.0" cy="0" rx="14.1" ry="22.0"/></clipPath>
<ellipse cx="124.0" cy="0.0" rx="14.1" ry="22.0" fill="#a8a8a8" />
<g clip-path="url(#clipw10)"><ellipse cx="120.5" cy="0.0" rx="14.1" ry="22.0" fill="#fff" /></g>
<line x1="100.0" y1="0" x2="170.0" y2="0" stroke="#8a8a8a" stroke-width="1.3"/>
<path d="M176.0,-31.0 L187.0,-31.0 A19.8,31.0 0 0 1 187.0,31.0 L176.0,31.0 A19.8,31.0 0 0 1 176.0,-31.0 Z" fill="#767676" />
<path fill-rule="evenodd" fill="#858585" d="M167.2,0 a19.8,31.0 0 1 0 39.7,0 a19.8,31.0 0 1 0 -39.7,0 Z M174.7,0 a12.3,19.2 0 1 0 24.6,0 a12.3,19.2 0 1 0 -24.6,0 Z"/>
<clipPath id="clipb4"><ellipse cx="187.0" cy="0" rx="12.3" ry="19.2"/></clipPath>
<ellipse cx="187.0" cy="0.0" rx="12.3" ry="19.2" fill="#8a8a8a" />
<g clip-path="url(#clipb4)"><ellipse cx="176.0" cy="0.0" rx="12.3" ry="19.2" fill="#fff" /></g>
<circle cx="200.8" cy="5.0" r="4.7" fill="#b0b0b0" stroke="#6c6c6c" stroke-width="0.8"/>
<circle cx="197.5" cy="15.9" r="4.7" fill="#b0b0b0" stroke="#6c6c6c" stroke-width="0.8"/>
<circle cx="191.3" cy="23.1" r="4.7" fill="#b0b0b0" stroke="#6c6c6c" stroke-width="0.8"/>
<circle cx="183.7" cy="25.0" r="4.7" fill="#b0b0b0" stroke="#6c6c6c" stroke-width="0.8"/>
<circle cx="176.4" cy="21.2" r="4.7" fill="#b0b0b0" stroke="#6c6c6c" stroke-width="0.8"/>
<circle cx="171.1" cy="12.6" r="4.7" fill="#b0b0b0" stroke="#6c6c6c" stroke-width="0.8"/>
<circle cx="168.9" cy="1.0" r="4.7" fill="#b0b0b0" stroke="#6c6c6c" stroke-width="0.8"/>
<circle cx="170.5" cy="-10.7" r="4.7" fill="#b0b0b0" stroke="#6c6c6c" stroke-width="0.8"/>
<circle cx="175.3" cy="-20.1" r="4.7" fill="#b0b0b0" stroke="#6c6c6c" stroke-width="0.8"/>
<circle cx="182.4" cy="-24.8" r="4.7" fill="#b0b0b0" stroke="#6c6c6c" stroke-width="0.8"/>
<circle cx="190.1" cy="-23.8" r="4.7" fill="#b0b0b0" stroke="#6c6c6c" stroke-width="0.8"/>
<circle cx="196.6" cy="-17.4" r="4.7" fill="#b0b0b0" stroke="#6c6c6c" stroke-width="0.8"/>
<circle cx="200.4" cy="-7.0" r="4.7" fill="#b0b0b0" stroke="#6c6c6c" stroke-width="0.8"/>
<line x1="165.0" y1="0" x2="232.0" y2="0" stroke="#8a8a8a" stroke-width="1.3"/>
<path d="M245.0,-34.0 L270.0,-34.0 A21.8,34.0 0 0 1 270.0,34.0 L245.0,34.0 A21.8,34.0 0 0 1 245.0,-34.0 Z" fill="#9a9a9a" />
<line x1="238.4" y1="-32.4" x2="270" y2="-32.4" stroke="#6a6a6a" stroke-width="1.3"/>
<line x1="233.4" y1="-28.8" x2="270" y2="-28.8" stroke="#6a6a6a" stroke-width="1.3"/>
<line x1="230.4" y1="-25.2" x2="270" y2="-25.2" stroke="#6a6a6a" stroke-width="1.3"/>
<line x1="228.2" y1="-21.6" x2="270" y2="-21.6" stroke="#6a6a6a" stroke-width="1.3"/>
<line x1="226.5" y1="-18.0" x2="270" y2="-18.0" stroke="#6a6a6a" stroke-width="1.3"/>
<line x1="225.3" y1="-14.4" x2="270" y2="-14.4" stroke="#6a6a6a" stroke-width="1.3"/>
<line x1="224.4" y1="-10.8" x2="270" y2="-10.8" stroke="#6a6a6a" stroke-width="1.3"/>
<line x1="223.7" y1="-7.2" x2="270" y2="-7.2" stroke="#6a6a6a" stroke-width="1.3"/>
<line x1="223.4" y1="-3.6" x2="270" y2="-3.6" stroke="#6a6a6a" stroke-width="1.3"/>
<line x1="223.2" y1="0.0" x2="270" y2="0.0" stroke="#6a6a6a" stroke-width="1.3"/>
<line x1="223.4" y1="3.6" x2="270" y2="3.6" stroke="#6a6a6a" stroke-width="1.3"/>
<line x1="223.7" y1="7.2" x2="270" y2="7.2" stroke="#6a6a6a" stroke-width="1.3"/>
<line x1="224.4" y1="10.8" x2="270" y2="10.8" stroke="#6a6a6a" stroke-width="1.3"/>
<line x1="225.3" y1="14.4" x2="270" y2="14.4" stroke="#6a6a6a" stroke-width="1.3"/>
<line x1="226.5" y1="18.0" x2="270" y2="18.0" stroke="#6a6a6a" stroke-width="1.3"/>
<line x1="228.2" y1="21.6" x2="270" y2="21.6" stroke="#6a6a6a" stroke-width="1.3"/>
<line x1="230.4" y1="25.2" x2="270" y2="25.2" stroke="#6a6a6a" stroke-width="1.3"/>
<line x1="233.4" y1="28.8" x2="270" y2="28.8" stroke="#6a6a6a" stroke-width="1.3"/>
<line x1="238.4" y1="32.4" x2="270" y2="32.4" stroke="#6a6a6a" stroke-width="1.3"/>
<path d="M283.5,-78.6 L287.5,-78.6 A50.3,78.6 0 0 1 287.5,78.6 L283.5,78.6 A50.3,78.6 0 0 1 283.5,-78.6 Z" fill="#a2a2a2" />
<ellipse cx="287.5" cy="0.0" rx="50.3" ry="78.6" fill="#757575" />
<ellipse cx="330.3" cy="10.1" rx="1.2" ry="1.9" fill="#bcbcbc"/>
<ellipse cx="324.5" cy="34.9" rx="1.2" ry="1.9" fill="#bcbcbc"/>
<ellipse cx="313.2" cy="54.4" rx="1.2" ry="1.9" fill="#bcbcbc"/>
<ellipse cx="297.9" cy="65.6" rx="1.2" ry="1.9" fill="#bcbcbc"/>
<ellipse cx="281.0" cy="66.8" rx="1.2" ry="1.9" fill="#bcbcbc"/>
<ellipse cx="265.2" cy="57.9" rx="1.2" ry="1.9" fill="#bcbcbc"/>
<ellipse cx="252.7" cy="40.1" rx="1.2" ry="1.9" fill="#bcbcbc"/>
<ellipse cx="245.5" cy="16.2" rx="1.2" ry="1.9" fill="#bcbcbc"/>
<ellipse cx="244.7" cy="-10.1" rx="1.2" ry="1.9" fill="#bcbcbc"/>
<ellipse cx="250.5" cy="-34.9" rx="1.2" ry="1.9" fill="#bcbcbc"/>
<ellipse cx="261.8" cy="-54.4" rx="1.2" ry="1.9" fill="#bcbcbc"/>
<ellipse cx="277.1" cy="-65.6" rx="1.2" ry="1.9" fill="#bcbcbc"/>
<ellipse cx="294.0" cy="-66.8" rx="1.2" ry="1.9" fill="#bcbcbc"/>
<ellipse cx="309.8" cy="-57.9" rx="1.2" ry="1.9" fill="#bcbcbc"/>
<ellipse cx="322.3" cy="-40.1" rx="1.2" ry="1.9" fill="#bcbcbc"/>
<ellipse cx="329.5" cy="-16.2" rx="1.2" ry="1.9" fill="#bcbcbc"/>
<ellipse cx="283.5" cy="3" rx="32.0" ry="50.0" fill="url(#gFillet)"/>
<path d="M289.5,-30.0 L396.0,-30.0 A19.2,30.0 0 0 1 396.0,30.0 L289.5,30.0 A19.2,30.0 0 0 1 289.5,-30.0 Z" fill="url(#gBody)" />
<path d="M370.0,-30.0 L396.0,-30.0 A19.2,30.0 0 0 1 396.0,30.0 L370.0,30.0 A19.2,30.0 0 0 1 370.0,-30.0 Z" fill="#000" opacity="0.18"/>
<path d="M392.5,-81.0 L397.5,-81.0 A51.8,81.0 0 0 1 397.5,81.0 L392.5,81.0 A51.8,81.0 0 0 1 392.5,-81.0 Z" fill="#a0a0a0" />
<ellipse cx="397.5" cy="0.0" rx="51.8" ry="81.0" fill="#898989" />
<ellipse cx="442.1" cy="21.5" rx="1.1" ry="1.7" fill="#c4c4c4"/>
<ellipse cx="433.4" cy="46.6" rx="1.1" ry="1.7" fill="#c4c4c4"/>
<ellipse cx="419.3" cy="64.5" rx="1.1" ry="1.7" fill="#c4c4c4"/>
<ellipse cx="401.8" cy="72.6" rx="1.1" ry="1.7" fill="#c4c4c4"/>
<ellipse cx="383.7" cy="69.6" rx="1.1" ry="1.7" fill="#c4c4c4"/>
<ellipse cx="367.7" cy="56.1" rx="1.1" ry="1.7" fill="#c4c4c4"/>
<ellipse cx="356.2" cy="34.0" rx="1.1" ry="1.7" fill="#c4c4c4"/>
<ellipse cx="351.0" cy="6.7" rx="1.1" ry="1.7" fill="#c4c4c4"/>
<ellipse cx="352.9" cy="-21.5" rx="1.1" ry="1.7" fill="#c4c4c4"/>
<ellipse cx="361.6" cy="-46.6" rx="1.1" ry="1.7" fill="#c4c4c4"/>
<ellipse cx="375.7" cy="-64.5" rx="1.1" ry="1.7" fill="#c4c4c4"/>
<ellipse cx="393.2" cy="-72.6" rx="1.1" ry="1.7" fill="#c4c4c4"/>
<ellipse cx="411.3" cy="-69.6" rx="1.1" ry="1.7" fill="#c4c4c4"/>
<ellipse cx="427.3" cy="-56.1" rx="1.1" ry="1.7" fill="#c4c4c4"/>
<ellipse cx="438.8" cy="-34.0" rx="1.1" ry="1.7" fill="#c4c4c4"/>
<ellipse cx="444.0" cy="-6.7" rx="1.1" ry="1.7" fill="#c4c4c4"/>
<path d="M397.5,-69.0 L405.5,-69.0 A44.2,69.0 0 0 1 405.5,69.0 L397.5,69.0 A44.2,69.0 0 0 1 397.5,-69.0 Z" fill="#868686" />
<ellipse cx="405.5" cy="0.0" rx="44.2" ry="69.0" fill="#a0a0a0" />
<ellipse cx="405.5" cy="0.0" rx="40.3" ry="63.0" fill="#7a7a7a" />
<clipPath id="clipCav"><ellipse cx="405.5" cy="0" rx="38.4" ry="60.0"/></clipPath>
<ellipse cx="405.5" cy="0.0" rx="38.4" ry="60.0" fill="#6f6f6f" />
<g clip-path="url(#clipCav)">
<ellipse cx="399.5" cy="0.0" rx="38.4" ry="60.0" fill="#7d7d7d" />
<ellipse cx="393.5" cy="0.0" rx="36.5" ry="57.0" fill="#6a6a6a" />
<ellipse cx="389.5" cy="0.0" rx="35.2" ry="55.0" fill="#858585" />
<ellipse cx="383.5" cy="0.0" rx="33.3" ry="52.0" fill="#707070" />
<ellipse cx="377.5" cy="0.0" rx="30.7" ry="48.0" fill="#8a8a8a" />
<ellipse cx="371.5" cy="0.0" rx="28.8" ry="45.0" fill="#6c6c6c" />
<ellipse cx="361.5" cy="0.0" rx="25.6" ry="40.0" fill="#808080" />
<ellipse cx="353.5" cy="0.0" rx="23.0" ry="36.0" fill="#9a9a9a" />
<line x1="404.9" y1="-43.7" x2="420.4" y2="-52.0" stroke="#a8a8a8" stroke-width="2.6"/>
<line x1="410.4" y1="-39.3" x2="425.9" y2="-46.8" stroke="#a8a8a8" stroke-width="2.6"/>
<line x1="414.4" y1="-34.9" x2="429.9" y2="-41.6" stroke="#a8a8a8" stroke-width="2.6"/>
<line x1="417.4" y1="-30.6" x2="432.9" y2="-36.4" stroke="#a8a8a8" stroke-width="2.6"/>
<line x1="419.8" y1="-26.2" x2="435.3" y2="-31.2" stroke="#a8a8a8" stroke-width="2.6"/>
<line x1="421.7" y1="-21.8" x2="437.2" y2="-26.0" stroke="#a8a8a8" stroke-width="2.6"/>
<line x1="423.2" y1="-17.5" x2="438.7" y2="-20.8" stroke="#a8a8a8" stroke-width="2.6"/>
<line x1="424.3" y1="-13.1" x2="439.8" y2="-15.6" stroke="#a8a8a8" stroke-width="2.6"/>
<line x1="425.0" y1="-8.7" x2="440.5" y2="-10.4" stroke="#a8a8a8" stroke-width="2.6"/>
<line x1="425.5" y1="-4.4" x2="441.0" y2="-5.2" stroke="#a8a8a8" stroke-width="2.6"/>
<line x1="425.6" y1="0.0" x2="441.1" y2="0.0" stroke="#a8a8a8" stroke-width="2.6"/>
<line x1="425.5" y1="4.4" x2="441.0" y2="5.2" stroke="#a8a8a8" stroke-width="2.6"/>
<line x1="425.0" y1="8.7" x2="440.5" y2="10.4" stroke="#a8a8a8" stroke-width="2.6"/>
<line x1="424.3" y1="13.1" x2="439.8" y2="15.6" stroke="#a8a8a8" stroke-width="2.6"/>
<line x1="423.2" y1="17.5" x2="438.7" y2="20.8" stroke="#a8a8a8" stroke-width="2.6"/>
<line x1="421.7" y1="21.8" x2="437.2" y2="26.0" stroke="#a8a8a8" stroke-width="2.6"/>
<line x1="419.8" y1="26.2" x2="435.3" y2="31.2" stroke="#a8a8a8" stroke-width="2.6"/>
<line x1="417.4" y1="30.6" x2="432.9" y2="36.4" stroke="#a8a8a8" stroke-width="2.6"/>
<line x1="414.4" y1="34.9" x2="429.9" y2="41.6" stroke="#a8a8a8" stroke-width="2.6"/>
<line x1="410.4" y1="39.3" x2="425.9" y2="46.8" stroke="#a8a8a8" stroke-width="2.6"/>
<line x1="404.9" y1="43.7" x2="420.4" y2="52.0" stroke="#a8a8a8" stroke-width="2.6"/>
</g>
<line x1="400.0" y1="0" x2="470.0" y2="0" stroke="#e8e8e8" stroke-width="2.2"/>
<line x1="392.0" y1="0" x2="475.0" y2="0" stroke="#8a8a8a" stroke-width="1.3"/>
<path d="M483.5,-33.0 L494.5,-33.0 A21.1,33.0 0 0 1 494.5,33.0 L483.5,33.0 A21.1,33.0 0 0 1 483.5,-33.0 Z" fill="#767676" />
<path fill-rule="evenodd" fill="#858585" d="M473.4,0 a21.1,33.0 0 1 0 42.2,0 a21.1,33.0 0 1 0 -42.2,0 Z M481.4,0 a13.1,20.5 0 1 0 26.2,0 a13.1,20.5 0 1 0 -26.2,0 Z"/>
<clipPath id="clipb3"><ellipse cx="494.5" cy="0" rx="13.1" ry="20.5"/></clipPath>
<ellipse cx="494.5" cy="0.0" rx="13.1" ry="20.5" fill="#8a8a8a" />
<g clip-path="url(#clipb3)"><ellipse cx="483.5" cy="0.0" rx="13.1" ry="20.5" fill="#fff" /></g>
<circle cx="509.3" cy="5.3" r="5.0" fill="#b0b0b0" stroke="#6c6c6c" stroke-width="0.8"/>
<circle cx="505.8" cy="16.9" r="5.0" fill="#b0b0b0" stroke="#6c6c6c" stroke-width="0.8"/>
<circle cx="499.2" cy="24.6" r="5.0" fill="#b0b0b0" stroke="#6c6c6c" stroke-width="0.8"/>
<circle cx="491.1" cy="26.6" r="5.0" fill="#b0b0b0" stroke="#6c6c6c" stroke-width="0.8"/>
<circle cx="483.4" cy="22.6" r="5.0" fill="#b0b0b0" stroke="#6c6c6c" stroke-width="0.8"/>
<circle cx="477.7" cy="13.4" r="5.0" fill="#b0b0b0" stroke="#6c6c6c" stroke-width="0.8"/>
<circle cx="475.4" cy="1.1" r="5.0" fill="#b0b0b0" stroke="#6c6c6c" stroke-width="0.8"/>
<circle cx="477.0" cy="-11.4" r="5.0" fill="#b0b0b0" stroke="#6c6c6c" stroke-width="0.8"/>
<circle cx="482.2" cy="-21.3" r="5.0" fill="#b0b0b0" stroke="#6c6c6c" stroke-width="0.8"/>
<circle cx="489.7" cy="-26.4" r="5.0" fill="#b0b0b0" stroke="#6c6c6c" stroke-width="0.8"/>
<circle cx="497.9" cy="-25.4" r="5.0" fill="#b0b0b0" stroke="#6c6c6c" stroke-width="0.8"/>
<circle cx="504.8" cy="-18.5" r="5.0" fill="#b0b0b0" stroke="#6c6c6c" stroke-width="0.8"/>
<circle cx="508.9" cy="-7.5" r="5.0" fill="#b0b0b0" stroke="#6c6c6c" stroke-width="0.8"/>
<line x1="478.0" y1="0" x2="520.0" y2="0" stroke="#e8e8e8" stroke-width="2.2"/>
<line x1="478.0" y1="0" x2="530.0" y2="0" stroke="#8a8a8a" stroke-width="1.3"/>
<path d="M543.0,-36.0 L547.0,-36.0 A23.0,36.0 0 0 1 547.0,36.0 L543.0,36.0 A23.0,36.0 0 0 1 543.0,-36.0 Z" fill="#666" />
<path fill-rule="evenodd" fill="#8e8e8e" d="M524.0,0 a23.0,36.0 0 1 0 46.1,0 a23.0,36.0 0 1 0 -46.1,0 Z M531.6,0 a15.4,24.0 0 1 0 30.7,0 a15.4,24.0 0 1 0 -30.7,0 Z"/>
<clipPath id="clipw9"><ellipse cx="547.0" cy="0" rx="15.4" ry="24.0"/></clipPath>
<ellipse cx="547.0" cy="0.0" rx="15.4" ry="24.0" fill="#a6a6a6" />
<g clip-path="url(#clipw9)"><ellipse cx="543.0" cy="0.0" rx="15.4" ry="24.0" fill="#fff" /></g>
<line x1="520.0" y1="0" x2="592.0" y2="0" stroke="#8a8a8a" stroke-width="1.3"/>
<path d="M589.5,-14.5 L727.0,-14.8 L730.0,-19.0 L733.0,-21.0 L752.0,-21.0 L755.0,-20.2 L757.0,-19.6 L786.0,-19.4 L800.0,-17.6 L815.0,-15.6 L830.0,-14.0 L842.0,-13.2 A8.4,13.2 0 0 1 842.0,13.2 L842.0,13.2 L830.0,14.0 L815.0,15.6 L800.0,17.6 L786.0,19.4 L757.0,19.6 L755.0,20.2 L752.0,21.0 L733.0,21.0 L730.0,19.0 L727.0,14.8 L589.5,14.5 A9.3,14.5 0 0 1 589.5,-14.5 Z" fill="url(#gAxle)"/>
<path d="M731.0,-20.0 A12.8,20.0 0 0 1 731.0,20.0" fill="none" stroke="#6e6e6e" stroke-width="1.2"/>
<path d="M744.0,-21.0 A13.4,21.0 0 0 1 744.0,21.0" fill="none" stroke="#a6a6a6" stroke-width="1.0"/>
<path d="M755.0,-20.4 A13.1,20.4 0 0 1 755.0,20.4" fill="none" stroke="#666" stroke-width="1.2"/>
<path d="M757.5,-19.5 A12.5,19.5 0 0 1 757.5,19.5" fill="none" stroke="#a4a4a4" stroke-width="0.9"/>
<path d="M800.0,-17.6 A11.3,17.6 0 0 1 800.0,17.6" fill="none" stroke="#9c9c9c" stroke-width="0.8"/>
<path d="M826.0,-14.4 A9.2,14.4 0 0 1 826.0,14.4" fill="none" stroke="#b0b0b0" stroke-width="0.9"/>
<path d="M831.0,-13.9 A8.9,13.9 0 0 1 831.0,13.9" fill="none" stroke="#6c6c6c" stroke-width="0.9"/>
<path d="M835.0,-13.6 A8.7,13.6 0 0 1 835.0,13.6" fill="none" stroke="#b0b0b0" stroke-width="0.9"/>
<ellipse cx="842.0" cy="0.0" rx="8.4" ry="13.2" fill="#8a8a8a" />
<ellipse cx="842.0" cy="0.0" rx="7.2" ry="11.2" fill="#b6b6b6" />
<path d="M834.8,0 A7.2,11.2 0 0 1 849.2,0 A7.2,9 0 0 0 834.8,0Z" fill="#8e8e8e"/>
<path d="M891.0,-43.0 L903.0,-43.0 A27.5,43.0 0 0 1 903.0,43.0 L891.0,43.0 A27.5,43.0 0 0 1 891.0,-43.0 Z" fill="url(#gCylB)" />
<path d="M871.3,-30.0 L879.3,-30.0 L875.4,-22.0 L867.4,-22.0 Z" fill="#5a5a5a"/>
<path d="M863.5,2.0 L871.5,2.0 L872.2,10.0 L864.2,10.0 Z" fill="#5a5a5a"/>
<path d="M870.1,28.0 L878.1,28.0 L883.0,35.0 L875.0,35.0 Z" fill="#5a5a5a"/>
<path d="M903,-43 A27.5,43 0 0 1 903,43" fill="none" stroke="#9a9a9a" stroke-width="1.2"/>
<ellipse cx="903.0" cy="0.0" rx="27.5" ry="43.0" fill="#8c8c8c" />
<path d="M903.0,-38.5 L909.0,-38.5 A24.6,38.5 0 0 1 909.0,38.5 L903.0,38.5 A24.6,38.5 0 0 1 903.0,-38.5 Z" fill="#646464" />
<path d="M909.0,-42.0 L921.0,-42.0 A26.9,42.0 0 0 1 921.0,42.0 L909.0,42.0 A26.9,42.0 0 0 1 909.0,-42.0 Z" fill="url(#gCylB)" />
<path d="M909,-42 A26.9,42 0 0 1 909,42" fill="none" stroke="#a0a0a0" stroke-width="1.2"/>
<ellipse cx="921.0" cy="0.0" rx="26.9" ry="42.0" fill="#9a9a9a" />
<path d="M921.0,-38.5 L969.0,-38.5 A24.6,38.5 0 0 1 969.0,38.5 L921.0,38.5 A24.6,38.5 0 0 1 921.0,-38.5 Z" fill="url(#gCylB)" />
<line x1="921.5" y1="-38.5" x2="969.0" y2="-38.5" stroke="#5e5e5e" stroke-width="1.6"/>
<line x1="918.7" y1="-38.3" x2="966.2" y2="-38.3" stroke="#a2a2a2" stroke-width="1.5"/>
<line x1="916.0" y1="-37.5" x2="963.5" y2="-37.5" stroke="#5e5e5e" stroke-width="1.6"/>
<line x1="913.4" y1="-36.3" x2="960.9" y2="-36.3" stroke="#a2a2a2" stroke-width="1.5"/>
<line x1="910.8" y1="-34.7" x2="958.3" y2="-34.7" stroke="#5e5e5e" stroke-width="1.6"/>
<line x1="908.4" y1="-32.6" x2="955.9" y2="-32.6" stroke="#a2a2a2" stroke-width="1.5"/>
<line x1="906.1" y1="-30.1" x2="953.6" y2="-30.1" stroke="#5e5e5e" stroke-width="1.6"/>
<line x1="904.1" y1="-27.2" x2="951.6" y2="-27.2" stroke="#a2a2a2" stroke-width="1.5"/>
<line x1="902.2" y1="-24.0" x2="949.7" y2="-24.0" stroke="#5e5e5e" stroke-width="1.6"/>
<line x1="900.6" y1="-20.5" x2="948.1" y2="-20.5" stroke="#a2a2a2" stroke-width="1.5"/>
<line x1="899.3" y1="-16.7" x2="946.8" y2="-16.7" stroke="#5e5e5e" stroke-width="1.6"/>
<line x1="898.2" y1="-12.7" x2="945.7" y2="-12.7" stroke="#a2a2a2" stroke-width="1.5"/>
<line x1="897.5" y1="-8.6" x2="945.0" y2="-8.6" stroke="#5e5e5e" stroke-width="1.6"/>
<line x1="897.0" y1="-4.3" x2="944.5" y2="-4.3" stroke="#a2a2a2" stroke-width="1.5"/>
<line x1="896.9" y1="0.0" x2="944.4" y2="0.0" stroke="#5e5e5e" stroke-width="1.6"/>
<line x1="897.0" y1="4.3" x2="944.5" y2="4.3" stroke="#a2a2a2" stroke-width="1.5"/>
<line x1="897.5" y1="8.6" x2="945.0" y2="8.6" stroke="#5e5e5e" stroke-width="1.6"/>
<line x1="898.2" y1="12.7" x2="945.7" y2="12.7" stroke="#a2a2a2" stroke-width="1.5"/>
<line x1="899.3" y1="16.7" x2="946.8" y2="16.7" stroke="#5e5e5e" stroke-width="1.6"/>
<line x1="900.6" y1="20.5" x2="948.1" y2="20.5" stroke="#a2a2a2" stroke-width="1.5"/>
<line x1="902.2" y1="24.0" x2="949.7" y2="24.0" stroke="#5e5e5e" stroke-width="1.6"/>
<line x1="904.1" y1="27.2" x2="951.6" y2="27.2" stroke="#a2a2a2" stroke-width="1.5"/>
<line x1="906.1" y1="30.1" x2="953.6" y2="30.1" stroke="#5e5e5e" stroke-width="1.6"/>
<line x1="908.4" y1="32.6" x2="955.9" y2="32.6" stroke="#a2a2a2" stroke-width="1.5"/>
<line x1="910.8" y1="34.7" x2="958.3" y2="34.7" stroke="#5e5e5e" stroke-width="1.6"/>
<line x1="913.4" y1="36.3" x2="960.9" y2="36.3" stroke="#a2a2a2" stroke-width="1.5"/>
<line x1="916.0" y1="37.5" x2="963.5" y2="37.5" stroke="#5e5e5e" stroke-width="1.6"/>
<line x1="918.7" y1="38.3" x2="966.2" y2="38.3" stroke="#a2a2a2" stroke-width="1.5"/>
<line x1="921.5" y1="38.5" x2="969.0" y2="38.5" stroke="#5e5e5e" stroke-width="1.6"/>
<line x1="918.7" y1="38.3" x2="966.2" y2="38.3" stroke="#a2a2a2" stroke-width="1.5"/>
<ellipse cx="969.0" cy="0.0" rx="24.6" ry="38.5" fill="#7c7c7c" />
<ellipse cx="969.0" cy="0.0" rx="22.7" ry="35.5" fill="#8f8f8f" />
<ellipse cx="968.5" cy="0.0" rx="19.8" ry="31.0" fill="#6f6f6f" />
<clipPath id="clipFH"><ellipse cx="968.5" cy="0" rx="19.8" ry="31"/></clipPath>
<g clip-path="url(#clipFH)"><ellipse cx="965.5" cy="0.0" rx="19.2" ry="30.0" fill="#9c9c9c" /><ellipse cx="962.5" cy="0.0" rx="18.6" ry="29.0" fill="#727272" /><ellipse cx="959.5" cy="0.0" rx="17.9" ry="28.0" fill="#a2a2a2" /><ellipse cx="956.5" cy="0.0" rx="17.3" ry="27.0" fill="#747474" /><ellipse cx="953.5" cy="0.0" rx="16.3" ry="25.5" fill="#a6a6a6" /><ellipse cx="949.5" cy="0.0" rx="15.4" ry="24.0" fill="#787878" /><ellipse cx="944.5" cy="0.0" rx="13.4" ry="21.0" fill="#9a9a9a" /><ellipse cx="938.5" cy="0.0" rx="12.2" ry="19.0" fill="#b4b4b4" /></g>
<path d="M1029.2,-55.8 L1032.7,-55.8 A35.7,55.8 0 0 1 1032.7,55.8 L1029.2,55.8 A35.7,55.8 0 0 1 1029.2,-55.8 Z" fill="#686868" />
<path fill-rule="evenodd" fill="#8e8e8e" d="M997.0,0 a35.7,55.8 0 1 0 71.4,0 a35.7,55.8 0 1 0 -71.4,0 Z M1004.2,0 a28.5,44.5 0 1 0 57.0,0 a28.5,44.5 0 1 0 -57.0,0 Z"/>
<clipPath id="clipw7"><ellipse cx="1032.7" cy="0" rx="28.5" ry="44.5"/></clipPath>
<ellipse cx="1032.7" cy="0.0" rx="28.5" ry="44.5" fill="#b0b0b0" />
<g clip-path="url(#clipw7)"><ellipse cx="1029.2" cy="0.0" rx="28.5" ry="44.5" fill="#fff" /></g>
<path d="M1110.5,-52.4 L1114.0,-52.4 A33.5,52.4 0 0 1 1114.0,52.4 L1110.5,52.4 A33.5,52.4 0 0 1 1110.5,-52.4 Z" fill="#686868" />
<path fill-rule="evenodd" fill="#8e8e8e" d="M1080.5,0 a33.5,52.4 0 1 0 67.1,0 a33.5,52.4 0 1 0 -67.1,0 Z M1086.2,0 a27.8,43.5 0 1 0 55.7,0 a27.8,43.5 0 1 0 -55.7,0 Z"/>
<clipPath id="clipw6"><ellipse cx="1114.0" cy="0" rx="27.8" ry="43.5"/></clipPath>
<ellipse cx="1114.0" cy="0.0" rx="27.8" ry="43.5" fill="#b0b0b0" />
<g clip-path="url(#clipw6)"><ellipse cx="1110.5" cy="0.0" rx="27.8" ry="43.5" fill="#fff" /></g>
<line x1="952.0" y1="0" x2="1174.0" y2="0" stroke="#8a8a8a" stroke-width="1.3"/>
<path d="M1173.5,-21.5 L1179.0,-21.5 A13.8,21.5 0 0 1 1179.0,21.5 L1173.5,21.5 A13.8,21.5 0 0 1 1173.5,-21.5 Z" fill="#7a7a7a" />
<ellipse cx="1179.0" cy="0.0" rx="13.8" ry="21.5" fill="#8c8c8c" />
<path d="M1179.0,-23.5 L1185.0,-23.5 A15.0,23.5 0 0 1 1185.0,23.5 L1179.0,23.5 A15.0,23.5 0 0 1 1179.0,-23.5 Z" fill="#828282" />
<path d="M1185,-23.5 A15.0,23.5 0 0 1 1185,23.5" fill="none" stroke="#9c9c9c" stroke-width="1"/>
<path d="M1185.0,-25.0 L1210.0,-25.0 A16.0,25.0 0 0 1 1210.0,25.0 L1185.0,25.0 A16.0,25.0 0 0 1 1185.0,-25.0 Z" fill="url(#gCylA)" />
<rect x="1196" y="-21" width="6" height="4.5" fill="#6e6e6e"/>
<ellipse cx="1210.0" cy="0.0" rx="16.0" ry="25.0" fill="#b2b2b2" />
<ellipse cx="1210.0" cy="0.0" rx="15.1" ry="23.6" fill="#8d8d8d" />
<ellipse cx="1210.0" cy="0.0" rx="11.8" ry="18.5" fill="#a8a8a8" />
<ellipse cx="1210.0" cy="0.0" rx="11.1" ry="17.3" fill="url(#gHole)" />
</g>
<rect x="1143.7" y="109" width="71" height="11.3" fill="#231815"/>
<text x="1179.2" y="117.3" font-size="6.6" font-weight="bold" fill="#fff" text-anchor="middle" textLength="38" lengthAdjust="spacingAndGlyphs">SHIMANO</text>
<path d="M1222.2,106.5 Q1222.2,105.5 1223.2,105.5 L1268.3,105.5 L1268.3,96 Q1268.3,95 1269.3,95 L1293,95 Q1294,95 1294,96 L1294.6,134.4 L1250.3,123.4 L1250.3,133.4 Q1250.3,134.4 1249.3,134.4 L1223.2,134.4 Q1222.2,134.4 1222.2,133.4 Z" fill="#fff" stroke="#3e3a39" stroke-width="1" stroke-linejoin="round"/>
<path d="M1222.6,113 L1293.8,113 L1294,122 L1268.3,116 L1222.6,116 Z" fill="#231815"/>
<path d="M1301.1,96 L1326.9,95 L1326.9,104.7 L1372,104.7 Q1373,104.7 1373,105.7 L1373,133.4 Q1373,134.4 1372,134.4 L1344.8,134.4 L1344.8,123.4 L1326.9,125.6 L1301.5,134.6 Z" fill="#fff" stroke="#3e3a39" stroke-width="1" stroke-linejoin="round"/>
<path d="M1301.5,113 L1372.8,113 L1372.8,116 L1328,116 L1301.5,122 Z" fill="#231815"/>
<rect x="1326.9" y="85.2" width="17.9" height="19.5" fill="#231815"/>
<path d="M1326.9,126.4 L1344.8,123.2 L1344.8,143.75 L1326.9,143.75 Z" fill="#231815"/>
<path d="M1380.7,95.6 Q1380.7,94.6 1381.7,94.6 L1407.6,94.6 Q1408.6,94.6 1408.6,95.6 L1408.6,104.6 Q1409,106 1410.5,105.5 L1452.5,94.6 L1452.5,133.4 Q1452.5,134.4 1451.5,134.4 L1427.4,134.4 Q1426.4,134.4 1426.4,133.4 L1426.4,123.7 L1381.7,123.7 Q1380.7,123.7 1380.7,122.7 Z" fill="#fff" stroke="#3e3a39" stroke-width="1" stroke-linejoin="round"/>
<path d="M1381,113 L1427,113 L1452.3,106.5 L1452.3,116 L1381,116 Z" fill="#231815"/>
<path d="M1459,94.6 L1500.5,105.5 Q1502.4,106 1502.4,104.6 L1502.4,95.6 Q1502.4,94.6 1503.4,94.6 L1530.5,94.6 Q1531.5,94.6 1531.5,95.6 L1531.5,122.7 Q1531.5,123.7 1530.5,123.7 L1484.6,123.7 L1484.6,133.4 Q1484.6,134.4 1483.6,134.4 L1460,134.4 Q1459,134.4 1459,133.4 Z" fill="#fff" stroke="#3e3a39" stroke-width="1" stroke-linejoin="round"/>
<path d="M1459.2,106.5 L1484,113 L1531.3,113 L1531.3,116 L1459.2,116 Z" fill="#231815"/>
<path d="M1193,157.2 Q1247,155.2 1301,156.0 L1301.5,172.6 Q1247,171.6 1193,173.0 Z" fill="#231815"/>
<text x="1194.5" y="171.6" font-size="19.5" fill="#fff" textLength="69" lengthAdjust="spacingAndGlyphs">MT500</text>
<text x="1268" y="171.4" font-size="6.8" fill="#fff" textLength="32" lengthAdjust="spacingAndGlyphs">29in. 24C</text>
<path d="M1193,183.5 Q1247,181.5 1301,182.3 L1301.5,198.9 Q1247,197.9 1193,199.3 Z" fill="#231815"/>
<text x="1194.5" y="197.9" font-size="19.5" fill="#fff" textLength="69" lengthAdjust="spacingAndGlyphs">MT500</text>
<text x="1268" y="197.7" font-size="6.8" fill="#fff" textLength="32" lengthAdjust="spacingAndGlyphs">29in. 24C</text>
<rect x="1401" y="162" width="41" height="10.6" rx="2" fill="#231815"/>
<text x="1404" y="166.6" font-size="3.6" font-weight="bold" fill="#fff" textLength="33" lengthAdjust="spacingAndGlyphs">RECYCLABLE ALLOY</text>
<text x="1404" y="171" font-size="3.6" font-weight="bold" fill="#fff" textLength="20" lengthAdjust="spacingAndGlyphs">MALAYSIA</text>
<rect x="1431" y="168.2" width="5" height="2.6" fill="#fff"/>
<path d="M1366,187.6 Q1422,186 1479,184.6 Q1481.4,184.6 1481.4,187 L1481.4,195 Q1481.4,197.4 1479,197.5 Q1422,198.6 1366,199.4 Q1364,199.4 1364,197.4 L1364,189.6 Q1364,187.6 1366,187.6 Z" fill="#231815"/>
<path d="M1367,189 L1410.6,188 L1410.6,197.4 L1367,198 Q1365.6,198 1365.6,196.6 L1365.6,190.4 Q1365.6,189 1367,189Z" fill="#fff"/>
<path d="M1368.2,196.4 L1371.4,190.6 L1374.6,196.4 Z" fill="#231815"/>
<text x="1375.4" y="196.6" font-size="7.2" font-weight="bold" fill="#231815" textLength="33.5" lengthAdjust="spacingAndGlyphs">WARNING</text>
<rect x="1415" y="189.2" width="8.6" height="7.2" fill="#fff"/><line x1="1419.3" y1="189.2" x2="1419.3" y2="196.4" stroke="#231815" stroke-width="0.7"/>
<text transform="translate(1427,196.2) rotate(-1.5)" font-size="8" fill="#fff" textLength="49" lengthAdjust="spacingAndGlyphs">Disc brake only!</text>
<rect x="1249" y="216" width="180" height="15" fill="#231815"/>
<text x="1277" y="222.4" font-size="5.6" font-weight="bold" fill="#fff" text-anchor="middle" textLength="38" lengthAdjust="spacingAndGlyphs">SHIMANO</text>
<text x="1277" y="229.6" font-size="3.4" font-weight="bold" fill="#fff" text-anchor="middle" textLength="26" lengthAdjust="spacingAndGlyphs">WH-MT501-B</text>
<rect x="1311.9" y="216.9" width="58.1" height="13" fill="#fff"/>
<path d="M1320,221.1 L1320,230 L1338.75,230 Z M1347.5,230 L1360,221.1 L1360,230 Z" fill="#231815"/>
<path d="M1370.8,216.9 L1400,216.9 L1400,229.9 L1390,229.9 L1390,221.75 L1370.8,221.75 Z" fill="#fff"/>
<path d="M1401.9,229.9 L1401.9,223 Q1401.9,216.9 1408.75,216.9 L1427.5,216.9 L1427.5,221.75 L1415,221.75 Q1411.9,221.75 1411.9,224.9 L1411.9,229.9 Z" fill="#fff"/>
<path d="M1340.0,337.3 C1339.1,336.7 1329.3,337.6 1322.7,336.7 C1316.0,335.8 1307.1,333.3 1300.0,332.0 C1292.9,330.7 1285.2,328.8 1280.0,328.7 C1274.8,328.6 1271.2,330.0 1268.7,331.3 C1266.2,332.7 1265.7,333.6 1265.1,336.7 C1264.5,339.8 1265.0,345.8 1265.1,350.0 C1265.2,354.2 1264.7,359.0 1265.6,362.0 C1266.5,365.0 1268.3,366.8 1270.7,368.0 C1273.1,369.2 1277.0,369.1 1280.0,369.3 C1283.0,369.6 1286.9,370.3 1288.7,369.3 C1290.4,368.3 1289.0,365.7 1290.7,363.3 C1292.3,361.0 1294.7,358.2 1298.7,355.3 C1302.7,352.4 1309.8,348.4 1314.7,346.0 C1319.6,343.6 1323.8,342.1 1328.0,340.7 C1332.2,339.2 1340.9,338.0 1340.0,337.3Z" fill="#fff" stroke="#7d7d7d" stroke-width="1.1"/>
<path d="M1266.7,344.7 C1268.0,345.1 1271.8,346.6 1274.7,347.1 C1277.6,347.6 1280.9,347.9 1284.0,347.6 C1287.1,347.3 1290.0,346.3 1293.3,345.3 C1296.7,344.4 1300.4,342.9 1304.0,342.0 C1307.6,341.1 1311.1,340.4 1314.7,340.0 C1318.2,339.6 1323.6,339.4 1325.3,339.3" fill="none" stroke="#7d7d7d" stroke-width="1"/>
<path d="M1288.7,364.7 L1288.7,394.2 A52,26 0 0 0 1392.7,394.2 L1392.7,364.7 Z" fill="#fff" stroke="#7d7d7d" stroke-width="1.1"/>
<ellipse cx="1340.7" cy="364.7" rx="52" ry="26" fill="#8c8c8c" stroke="#6e6e6e" stroke-width="1"/>
<ellipse cx="1340.7" cy="364.7" rx="48.5" ry="24.0" fill="none" stroke="#a6a6a6" stroke-width="0.8"/>
<ellipse cx="1340.7" cy="365.2" rx="45.0" ry="22.2" fill="none" stroke="#a6a6a6" stroke-width="0.8"/>
<ellipse cx="1340.7" cy="365.7" rx="41.5" ry="20.4" fill="none" stroke="#a6a6a6" stroke-width="0.8"/>
<ellipse cx="1340.7" cy="366.2" rx="38.0" ry="18.8" fill="none" stroke="#a6a6a6" stroke-width="0.8"/>
<clipPath id="clipTape"><ellipse cx="1340.2" cy="367.9" rx="33.7" ry="19"/></clipPath>
<ellipse cx="1340.2" cy="367.9" rx="33.7" ry="19" fill="#fff" stroke="#6e6e6e" stroke-width="1"/>
<g clip-path="url(#clipTape)" fill="none" stroke="#7d7d7d" stroke-width="1"><path d="M1358.7,348.7 L1358.7,386.7" /><path d="M1316.7,378.7 Q1335.7,372.7 1358.7,358.7"/><path d="M1320.7,386.7 Q1340.7,374.7 1358.7,366.7"/><ellipse cx="1343.7" cy="378.7" rx="7" ry="4.5" transform="rotate(-35 1343.7 378.7)"/><path d="M1328.7,386.7 Q1328.7,376.7 1336.7,373.7"/></g>
<path id="tapeTxt" d="M1300.7,400.7 A52,26 0 0 0 1380.7,400.7" fill="none"/>
<text font-size="14.5" font-weight="bold" fill="#231815" letter-spacing="0.3"><textPath href="#tapeTxt" startOffset="50%" text-anchor="middle" textLength="72" lengthAdjust="spacingAndGlyphs">SHIMANO</textPath></text>
<g transform="translate(1150.0,570.0) rotate(33.0)" fill="#fff" stroke="#3a3a3a" stroke-width="1.3"><path d="M-11,-21 A11.6,21 0 0 0 -11,21 L-7,21 L-7,-21Z"/><ellipse cx="-12" cy="0" rx="8.2" ry="15" /><path d="M-8,-28 L0,-28 A15.4,28 0 0 1 0,28 L-8,28 A15.4,28 0 0 1 -8,-28Z"/><ellipse cx="0" cy="0" rx="15.4" ry="28"/><ellipse cx="2" cy="0" rx="8.8" ry="16" fill="none" stroke="#999" stroke-width="0.8"/><path d="M4,-14.5 L52,-14.5 A8.0,14.5 0 0 1 52,14.5 L4,14.5 A8.0,14.5 0 0 1 4,-14.5Z"/><path d="M40,-14.5 A8.0,14.5 0 0 1 40,14.5" fill="none"/><ellipse cx="52" cy="0" rx="8.0" ry="14.5"/><ellipse cx="52" cy="0" rx="3.6" ry="6.5"/><ellipse cx="53" cy="0" rx="2.3" ry="4.2" stroke-width="0.7"/></g>
<g transform="translate(1268.0,576.0) rotate(30.0)" fill="#fff" stroke="#3a3a3a" stroke-width="1.3"><path d="M-58,-14.5 L0,-14.5 L0,14.5 L-58,14.5 A8.0,14.5 0 0 1 -58,-14.5Z"/><path d="M-52,-14.5 A8.0,14.5 0 0 0 -52,14.5" fill="none"/><path d="M-49,-14.5 A8.0,14.5 0 0 0 -49,14.5" fill="none"/><path d="M-8,-28 L0,-28 A15.4,28 0 0 1 0,28 L-8,28 A15.4,28 0 0 1 -8,-28Z"/><ellipse cx="0" cy="0" rx="15.4" ry="28"/><ellipse cx="2" cy="0" rx="8.2" ry="15" fill="none" stroke="#999" stroke-width="0.8"/><path d="M3,-11 L11,-11 A6.1,11 0 0 1 11,11 L3,11 A6.1,11 0 0 1 3,-11Z"/><ellipse cx="11" cy="0" rx="6.1" ry="11"/><ellipse cx="11" cy="0" rx="3.3" ry="6"/></g>
<path d="M1430.8,573.1 C1433.2,572.9 1438.4,573.4 1438.6,573.5 C1438.8,573.6 1439.7,577.1 1439.6,577.3 C1439.4,577.5 1434.7,581.3 1432.7,583.0 C1430.7,584.6 1426.2,588.0 1426.2,588.2 C1426.1,588.5 1427.5,592.9 1429.4,594.4 C1431.4,595.9 1436.8,597.7 1439.3,598.1 C1441.8,598.4 1445.6,596.9 1445.9,596.7 C1446.1,596.6 1450.2,592.2 1451.8,590.4 C1453.3,588.7 1456.1,585.0 1456.4,584.9 C1456.6,584.8 1460.9,585.0 1461.9,586.0 C1462.8,587.0 1463.3,588.9 1462.9,591.5 C1462.5,594.1 1460.9,600.2 1459.0,603.3 C1457.0,606.5 1453.1,610.4 1449.8,612.5 C1446.4,614.6 1440.4,616.2 1436.7,617.1 C1432.9,618.0 1428.2,617.9 1424.9,618.4 C1421.5,618.9 1418.7,618.6 1414.4,620.4 C1410.0,622.1 1403.9,626.0 1396.0,630.2 C1388.1,634.4 1369.7,644.4 1361.9,648.6 C1354.0,652.8 1347.6,656.0 1343.5,658.4 C1339.4,660.9 1336.5,662.6 1334.3,665.0 C1332.1,667.3 1331.2,671.8 1329.1,674.2 C1326.9,676.5 1322.8,679.3 1319.9,680.7 C1316.9,682.2 1312.1,683.5 1309.4,684.0 C1306.7,684.5 1302.1,684.2 1301.9,684.1 C1301.7,684.1 1299.8,681.6 1299.9,681.4 C1300.0,681.2 1303.9,677.7 1305.4,676.1 C1307.0,674.6 1310.3,671.5 1310.4,671.3 C1310.5,671.1 1310.2,667.6 1309.1,666.6 C1308.0,665.5 1304.4,664.6 1302.8,664.3 C1301.2,664.1 1298.5,664.8 1298.2,665.0 C1298.0,665.1 1294.0,669.1 1292.3,670.9 C1290.6,672.7 1287.2,676.7 1287.1,676.8 C1286.9,676.9 1284.8,676.5 1284.2,675.5 C1283.6,674.5 1283.1,672.4 1283.1,670.2 C1283.2,668.1 1283.5,663.6 1284.4,661.0 C1285.4,658.5 1287.3,655.1 1289.7,653.2 C1292.0,651.2 1296.6,649.1 1300.2,647.9 C1303.7,646.7 1309.6,645.9 1313.3,645.3 C1317.0,644.7 1320.6,645.8 1325.1,644.0 C1329.6,642.2 1336.0,637.8 1343.5,633.5 C1351.0,629.2 1367.1,619.6 1375.0,615.1 C1382.9,610.6 1391.9,606.5 1396.0,603.3 C1400.1,600.2 1401.0,596.7 1402.5,594.1 C1404.1,591.6 1404.9,588.4 1406.5,586.2 C1408.1,584.1 1410.7,581.4 1413.0,579.7 C1415.4,578.0 1419.6,576.1 1422.2,575.1 C1424.9,574.1 1428.3,573.4 1430.8,573.1Z" transform="translate(0.9,1.6)" fill="#fff" stroke="#8a8a8a" stroke-width="1"/><path d="M1430.8,573.1 C1433.2,572.9 1438.4,573.4 1438.6,573.5 C1438.8,573.6 1439.7,577.1 1439.6,577.3 C1439.4,577.5 1434.7,581.3 1432.7,583.0 C1430.7,584.6 1426.2,588.0 1426.2,588.2 C1426.1,588.5 1427.5,592.9 1429.4,594.4 C1431.4,595.9 1436.8,597.7 1439.3,598.1 C1441.8,598.4 1445.6,596.9 1445.9,596.7 C1446.1,596.6 1450.2,592.2 1451.8,590.4 C1453.3,588.7 1456.1,585.0 1456.4,584.9 C1456.6,584.8 1460.9,585.0 1461.9,586.0 C1462.8,587.0 1463.3,588.9 1462.9,591.5 C1462.5,594.1 1460.9,600.2 1459.0,603.3 C1457.0,606.5 1453.1,610.4 1449.8,612.5 C1446.4,614.6 1440.4,616.2 1436.7,617.1 C1432.9,618.0 1428.2,617.9 1424.9,618.4 C1421.5,618.9 1418.7,618.6 1414.4,620.4 C1410.0,622.1 1403.9,626.0 1396.0,630.2 C1388.1,634.4 1369.7,644.4 1361.9,648.6 C1354.0,652.8 1347.6,656.0 1343.5,658.4 C1339.4,660.9 1336.5,662.6 1334.3,665.0 C1332.1,667.3 1331.2,671.8 1329.1,674.2 C1326.9,676.5 1322.8,679.3 1319.9,680.7 C1316.9,682.2 1312.1,683.5 1309.4,684.0 C1306.7,684.5 1302.1,684.2 1301.9,684.1 C1301.7,684.1 1299.8,681.6 1299.9,681.4 C1300.0,681.2 1303.9,677.7 1305.4,676.1 C1307.0,674.6 1310.3,671.5 1310.4,671.3 C1310.5,671.1 1310.2,667.6 1309.1,666.6 C1308.0,665.5 1304.4,664.6 1302.8,664.3 C1301.2,664.1 1298.5,664.8 1298.2,665.0 C1298.0,665.1 1294.0,669.1 1292.3,670.9 C1290.6,672.7 1287.2,676.7 1287.1,676.8 C1286.9,676.9 1284.8,676.5 1284.2,675.5 C1283.6,674.5 1283.1,672.4 1283.1,670.2 C1283.2,668.1 1283.5,663.6 1284.4,661.0 C1285.4,658.5 1287.3,655.1 1289.7,653.2 C1292.0,651.2 1296.6,649.1 1300.2,647.9 C1303.7,646.7 1309.6,645.9 1313.3,645.3 C1317.0,644.7 1320.6,645.8 1325.1,644.0 C1329.6,642.2 1336.0,637.8 1343.5,633.5 C1351.0,629.2 1367.1,619.6 1375.0,615.1 C1382.9,610.6 1391.9,606.5 1396.0,603.3 C1400.1,600.2 1401.0,596.7 1402.5,594.1 C1404.1,591.6 1404.9,588.4 1406.5,586.2 C1408.1,584.1 1410.7,581.4 1413.0,579.7 C1415.4,578.0 1419.6,576.1 1422.2,575.1 C1424.9,574.1 1428.3,573.4 1430.8,573.1Z" fill="#fff" stroke="#2e2a29" stroke-width="1.5"/>
<g transform="translate(1351.0,638.5) rotate(-27.8)" fill="#4a4a4a" font-weight="bold"><text x="0" y="0" font-size="5.2" textLength="25" lengthAdjust="spacingAndGlyphs" stroke="#4a4a4a" stroke-width="0.3">SHIMANO</text><text x="1" y="3.6" font-size="3.2" textLength="21" lengthAdjust="spacingAndGlyphs">TL-7S20 &#8212;</text></g>
<path d="M1517.8,587.4 C1520.2,587.2 1525.4,587.7 1525.6,587.8 C1525.8,587.9 1526.7,591.4 1526.6,591.6 C1526.4,591.8 1521.7,595.6 1519.7,597.3 C1517.7,598.9 1513.2,602.3 1513.2,602.5 C1513.1,602.8 1514.5,607.2 1516.4,608.7 C1518.4,610.2 1523.8,612.0 1526.3,612.4 C1528.8,612.7 1532.6,611.2 1532.9,611.0 C1533.1,610.9 1537.2,606.5 1538.8,604.7 C1540.3,603.0 1543.1,599.3 1543.4,599.2 C1543.6,599.1 1547.9,599.3 1548.9,600.3 C1549.8,601.3 1550.3,603.2 1549.9,605.8 C1549.5,608.4 1547.9,614.5 1546.0,617.6 C1544.0,620.8 1540.1,624.7 1536.8,626.8 C1533.4,628.9 1527.4,630.5 1523.7,631.4 C1519.9,632.3 1515.2,632.2 1511.9,632.7 C1508.5,633.2 1505.7,632.9 1501.4,634.7 C1497.0,636.4 1490.9,640.3 1483.0,644.5 C1475.1,648.7 1456.7,658.7 1448.9,662.9 C1441.0,667.1 1434.6,670.3 1430.5,672.7 C1426.4,675.2 1423.5,676.9 1421.3,679.3 C1419.1,681.6 1418.2,686.1 1416.1,688.5 C1413.9,690.8 1409.8,693.6 1406.9,695.0 C1403.9,696.5 1399.1,697.8 1396.4,698.3 C1393.7,698.8 1389.1,698.5 1388.9,698.4 C1388.7,698.4 1386.8,695.9 1386.9,695.7 C1387.0,695.5 1390.9,692.0 1392.4,690.4 C1394.0,688.9 1397.3,685.8 1397.4,685.6 C1397.5,685.4 1397.2,681.9 1396.1,680.9 C1395.0,679.8 1391.4,678.9 1389.8,678.6 C1388.2,678.4 1385.5,679.1 1385.2,679.3 C1385.0,679.4 1381.0,683.4 1379.3,685.2 C1377.6,687.0 1374.2,691.0 1374.1,691.1 C1373.9,691.2 1371.8,690.8 1371.2,689.8 C1370.6,688.8 1370.1,686.7 1370.1,684.5 C1370.2,682.4 1370.5,677.9 1371.4,675.3 C1372.4,672.8 1374.3,669.4 1376.7,667.5 C1379.0,665.5 1383.6,663.4 1387.2,662.2 C1390.7,661.0 1396.6,660.2 1400.3,659.6 C1404.0,659.0 1407.6,660.1 1412.1,658.3 C1416.6,656.5 1423.0,652.1 1430.5,647.8 C1438.0,643.5 1454.1,633.9 1462.0,629.4 C1469.9,624.9 1478.9,620.8 1483.0,617.6 C1487.1,614.5 1488.0,611.0 1489.5,608.4 C1491.1,605.9 1491.9,602.7 1493.5,600.5 C1495.1,598.4 1497.7,595.7 1500.0,594.0 C1502.4,592.3 1506.6,590.4 1509.2,589.4 C1511.9,588.4 1515.3,587.7 1517.8,587.4Z" transform="translate(0.9,1.6)" fill="#fff" stroke="#8a8a8a" stroke-width="1"/><path d="M1517.8,587.4 C1520.2,587.2 1525.4,587.7 1525.6,587.8 C1525.8,587.9 1526.7,591.4 1526.6,591.6 C1526.4,591.8 1521.7,595.6 1519.7,597.3 C1517.7,598.9 1513.2,602.3 1513.2,602.5 C1513.1,602.8 1514.5,607.2 1516.4,608.7 C1518.4,610.2 1523.8,612.0 1526.3,612.4 C1528.8,612.7 1532.6,611.2 1532.9,611.0 C1533.1,610.9 1537.2,606.5 1538.8,604.7 C1540.3,603.0 1543.1,599.3 1543.4,599.2 C1543.6,599.1 1547.9,599.3 1548.9,600.3 C1549.8,601.3 1550.3,603.2 1549.9,605.8 C1549.5,608.4 1547.9,614.5 1546.0,617.6 C1544.0,620.8 1540.1,624.7 1536.8,626.8 C1533.4,628.9 1527.4,630.5 1523.7,631.4 C1519.9,632.3 1515.2,632.2 1511.9,632.7 C1508.5,633.2 1505.7,632.9 1501.4,634.7 C1497.0,636.4 1490.9,640.3 1483.0,644.5 C1475.1,648.7 1456.7,658.7 1448.9,662.9 C1441.0,667.1 1434.6,670.3 1430.5,672.7 C1426.4,675.2 1423.5,676.9 1421.3,679.3 C1419.1,681.6 1418.2,686.1 1416.1,688.5 C1413.9,690.8 1409.8,693.6 1406.9,695.0 C1403.9,696.5 1399.1,697.8 1396.4,698.3 C1393.7,698.8 1389.1,698.5 1388.9,698.4 C1388.7,698.4 1386.8,695.9 1386.9,695.7 C1387.0,695.5 1390.9,692.0 1392.4,690.4 C1394.0,688.9 1397.3,685.8 1397.4,685.6 C1397.5,685.4 1397.2,681.9 1396.1,680.9 C1395.0,679.8 1391.4,678.9 1389.8,678.6 C1388.2,678.4 1385.5,679.1 1385.2,679.3 C1385.0,679.4 1381.0,683.4 1379.3,685.2 C1377.6,687.0 1374.2,691.0 1374.1,691.1 C1373.9,691.2 1371.8,690.8 1371.2,689.8 C1370.6,688.8 1370.1,686.7 1370.1,684.5 C1370.2,682.4 1370.5,677.9 1371.4,675.3 C1372.4,672.8 1374.3,669.4 1376.7,667.5 C1379.0,665.5 1383.6,663.4 1387.2,662.2 C1390.7,661.0 1396.6,660.2 1400.3,659.6 C1404.0,659.0 1407.6,660.1 1412.1,658.3 C1416.6,656.5 1423.0,652.1 1430.5,647.8 C1438.0,643.5 1454.1,633.9 1462.0,629.4 C1469.9,624.9 1478.9,620.8 1483.0,617.6 C1487.1,614.5 1488.0,611.0 1489.5,608.4 C1491.1,605.9 1491.9,602.7 1493.5,600.5 C1495.1,598.4 1497.7,595.7 1500.0,594.0 C1502.4,592.3 1506.6,590.4 1509.2,589.4 C1511.9,588.4 1515.3,587.7 1517.8,587.4Z" fill="#fff" stroke="#2e2a29" stroke-width="1.5"/>
<g transform="translate(1438.0,652.8) rotate(-27.8)" fill="#4a4a4a" font-weight="bold"><text x="0" y="0" font-size="5.2" textLength="25" lengthAdjust="spacingAndGlyphs" stroke="#4a4a4a" stroke-width="0.3">SHIMANO</text><text x="1" y="3.6" font-size="3.2" textLength="21" lengthAdjust="spacingAndGlyphs">TL-7S20 &#8212;</text></g>
<path d="M1272.7,782.7 C1273.0,782.8 1274.4,786.9 1274.3,787.1 C1274.2,787.3 1270.3,790.4 1268.8,791.7 C1267.3,792.9 1264.2,795.4 1264.2,795.6 C1264.2,795.7 1265.1,797.5 1268.1,798.6 C1271.2,799.7 1284.0,802.8 1284.5,802.8 C1285.1,802.8 1289.7,799.1 1291.8,797.6 C1293.8,796.0 1298.1,792.6 1298.3,792.6 C1298.5,792.5 1301.1,793.3 1301.9,794.3 C1302.7,795.2 1303.6,796.8 1303.6,798.9 C1303.5,800.9 1303.1,805.9 1301.6,808.1 C1300.1,810.2 1296.9,812.2 1293.7,813.3 C1290.6,814.4 1284.9,814.7 1280.6,815.3 C1276.3,815.9 1269.6,816.2 1264.9,817.2 C1260.1,818.3 1256.6,818.8 1249.1,822.5 C1241.6,826.2 1224.8,836.5 1215.0,842.2 C1205.1,847.9 1189.8,856.8 1183.5,860.6 C1177.2,864.3 1175.6,864.6 1173.0,867.1 C1170.4,869.7 1168.4,875.2 1166.4,877.6 C1164.5,880.0 1162.4,881.5 1159.9,882.9 C1157.3,884.2 1152.0,886.0 1149.4,886.8 C1146.7,887.6 1142.3,888.1 1142.2,888.1 C1142.0,888.1 1140.6,885.6 1140.7,885.5 C1140.8,885.3 1143.7,882.8 1144.8,881.5 C1145.9,880.3 1148.0,877.5 1148.1,877.3 C1148.1,877.2 1147.3,875.7 1145.2,875.0 C1143.0,874.2 1134.0,872.3 1133.6,872.4 C1133.2,872.4 1129.9,876.2 1128.4,877.9 C1126.8,879.5 1123.3,883.4 1123.1,883.5 C1122.9,883.6 1121.3,882.9 1120.5,881.8 C1119.7,880.7 1117.9,878.3 1117.9,876.3 C1117.9,874.3 1118.7,870.4 1120.5,868.4 C1122.3,866.5 1126.3,864.4 1129.7,863.2 C1133.0,862.0 1139.1,861.3 1142.8,860.6 C1146.5,859.8 1151.3,858.9 1154.6,857.9 C1158.0,856.9 1158.0,857.8 1165.1,854.0 C1172.2,850.2 1190.4,839.2 1201.9,832.5 C1213.3,825.8 1234.7,814.2 1241.2,809.4 C1247.7,804.5 1244.4,802.5 1245.2,800.2 C1246.0,797.8 1245.3,795.6 1246.5,793.6 C1247.7,791.7 1250.7,788.6 1253.0,787.1 C1255.4,785.5 1259.3,783.8 1262.2,783.1 C1265.2,782.5 1272.5,782.6 1272.7,782.7Z" transform="translate(0.9,1.6)" fill="#fff" stroke="#8a8a8a" stroke-width="1"/><path d="M1272.7,782.7 C1273.0,782.8 1274.4,786.9 1274.3,787.1 C1274.2,787.3 1270.3,790.4 1268.8,791.7 C1267.3,792.9 1264.2,795.4 1264.2,795.6 C1264.2,795.7 1265.1,797.5 1268.1,798.6 C1271.2,799.7 1284.0,802.8 1284.5,802.8 C1285.1,802.8 1289.7,799.1 1291.8,797.6 C1293.8,796.0 1298.1,792.6 1298.3,792.6 C1298.5,792.5 1301.1,793.3 1301.9,794.3 C1302.7,795.2 1303.6,796.8 1303.6,798.9 C1303.5,800.9 1303.1,805.9 1301.6,808.1 C1300.1,810.2 1296.9,812.2 1293.7,813.3 C1290.6,814.4 1284.9,814.7 1280.6,815.3 C1276.3,815.9 1269.6,816.2 1264.9,817.2 C1260.1,818.3 1256.6,818.8 1249.1,822.5 C1241.6,826.2 1224.8,836.5 1215.0,842.2 C1205.1,847.9 1189.8,856.8 1183.5,860.6 C1177.2,864.3 1175.6,864.6 1173.0,867.1 C1170.4,869.7 1168.4,875.2 1166.4,877.6 C1164.5,880.0 1162.4,881.5 1159.9,882.9 C1157.3,884.2 1152.0,886.0 1149.4,886.8 C1146.7,887.6 1142.3,888.1 1142.2,888.1 C1142.0,888.1 1140.6,885.6 1140.7,885.5 C1140.8,885.3 1143.7,882.8 1144.8,881.5 C1145.9,880.3 1148.0,877.5 1148.1,877.3 C1148.1,877.2 1147.3,875.7 1145.2,875.0 C1143.0,874.2 1134.0,872.3 1133.6,872.4 C1133.2,872.4 1129.9,876.2 1128.4,877.9 C1126.8,879.5 1123.3,883.4 1123.1,883.5 C1122.9,883.6 1121.3,882.9 1120.5,881.8 C1119.7,880.7 1117.9,878.3 1117.9,876.3 C1117.9,874.3 1118.7,870.4 1120.5,868.4 C1122.3,866.5 1126.3,864.4 1129.7,863.2 C1133.0,862.0 1139.1,861.3 1142.8,860.6 C1146.5,859.8 1151.3,858.9 1154.6,857.9 C1158.0,856.9 1158.0,857.8 1165.1,854.0 C1172.2,850.2 1190.4,839.2 1201.9,832.5 C1213.3,825.8 1234.7,814.2 1241.2,809.4 C1247.7,804.5 1244.4,802.5 1245.2,800.2 C1246.0,797.8 1245.3,795.6 1246.5,793.6 C1247.7,791.7 1250.7,788.6 1253.0,787.1 C1255.4,785.5 1259.3,783.8 1262.2,783.1 C1265.2,782.5 1272.5,782.6 1272.7,782.7Z" fill="#fff" stroke="#2e2a29" stroke-width="1.5"/>
<g transform="translate(1190.0,845.5) rotate(-29.3)" fill="#4a4a4a" font-weight="bold"><text x="0" y="0" font-size="5.2" textLength="32" lengthAdjust="spacingAndGlyphs" stroke="#4a4a4a" stroke-width="0.3">SHIMANO</text><text x="1" y="3.6" font-size="3.2" textLength="28" lengthAdjust="spacingAndGlyphs">TL-HS22 &#8212;</text></g>
<path d="M1414.3,942.3 C1410.3,944.9 1396.1,955.0 1388.0,959.8 C1379.9,964.5 1368.1,969.8 1360.0,973.8 C1351.9,977.7 1340.3,982.9 1333.8,986.0 C1327.2,989.2 1320.3,992.4 1316.3,994.8 C1312.2,997.1 1308.5,999.4 1306.6,1001.8 C1304.8,1004.1 1304.0,1008.5 1304.0,1010.5 C1304.0,1012.5 1305.5,1014.5 1306.6,1015.2 C1307.7,1016.0 1309.4,1016.4 1311.4,1015.4 C1313.3,1014.4 1317.3,1010.6 1319.8,1008.8 C1322.2,1006.9 1325.3,1003.8 1327.6,1003.0 C1330.0,1002.1 1332.3,1002.0 1335.5,1003.2 C1338.7,1004.3 1348.0,1008.2 1349.2,1010.5 C1350.3,1012.8 1345.1,1016.2 1343.4,1018.4 C1341.6,1020.6 1338.1,1023.8 1337.6,1025.4 C1337.1,1027.0 1338.4,1028.5 1339.9,1028.9 C1341.4,1029.3 1344.2,1029.2 1347.8,1028.0 C1351.3,1026.8 1359.0,1023.9 1363.5,1021.0 C1368.0,1018.1 1373.8,1012.7 1377.5,1008.8 C1381.2,1004.8 1384.9,999.0 1388.0,994.8 C1391.2,990.6 1394.8,984.4 1398.5,980.8 C1402.2,977.1 1408.0,973.1 1412.5,970.3 C1417.0,967.4 1424.3,963.1 1428.3,961.5 C1432.2,959.9 1437.2,960.0 1438.8,959.8 Z" transform="translate(0.8,1.6)" fill="#fff" stroke="#8a8a8a" stroke-width="1"/>
<path d="M1414.3,942.3 C1410.3,944.9 1396.1,955.0 1388.0,959.8 C1379.9,964.5 1368.1,969.8 1360.0,973.8 C1351.9,977.7 1340.3,982.9 1333.8,986.0 C1327.2,989.2 1320.3,992.4 1316.3,994.8 C1312.2,997.1 1308.5,999.4 1306.6,1001.8 C1304.8,1004.1 1304.0,1008.5 1304.0,1010.5 C1304.0,1012.5 1305.5,1014.5 1306.6,1015.2 C1307.7,1016.0 1309.4,1016.4 1311.4,1015.4 C1313.3,1014.4 1317.3,1010.6 1319.8,1008.8 C1322.2,1006.9 1325.3,1003.8 1327.6,1003.0 C1330.0,1002.1 1332.3,1002.0 1335.5,1003.2 C1338.7,1004.3 1348.0,1008.2 1349.2,1010.5 C1350.3,1012.8 1345.1,1016.2 1343.4,1018.4 C1341.6,1020.6 1338.1,1023.8 1337.6,1025.4 C1337.1,1027.0 1338.4,1028.5 1339.9,1028.9 C1341.4,1029.3 1344.2,1029.2 1347.8,1028.0 C1351.3,1026.8 1359.0,1023.9 1363.5,1021.0 C1368.0,1018.1 1373.8,1012.7 1377.5,1008.8 C1381.2,1004.8 1384.9,999.0 1388.0,994.8 C1391.2,990.6 1394.8,984.4 1398.5,980.8 C1402.2,977.1 1408.0,973.1 1412.5,970.3 C1417.0,967.4 1424.3,963.1 1428.3,961.5 C1432.2,959.9 1437.2,960.0 1438.8,959.8 Z" fill="#fff" stroke="#2e2a29" stroke-width="1.5"/>
<ellipse cx="1353.9" cy="993.0" rx="6.2" ry="3.4" transform="rotate(-8 1353.9 993.0)" fill="#fff" stroke="#3e3a39" stroke-width="1.1"/>
<path d="M1414.3,942.3 C1414.7,939.7 1422.3,936.5 1430.0,931.8 C1437.7,927.0 1460.8,913.6 1472.0,906.9 C1483.2,900.3 1507.0,885.7 1514.0,881.9 C1521.0,878.1 1521.7,878.8 1524.5,878.4 C1527.3,878.0 1532.2,878.1 1535.0,878.9 C1537.8,879.7 1543.6,882.6 1545.5,884.5 C1547.4,886.4 1549.1,891.1 1549.4,893.3 C1549.6,895.4 1549.2,898.3 1547.3,900.6 C1545.3,902.9 1542.0,906.5 1535.0,910.8 C1528.0,915.0 1505.5,926.8 1494.8,932.6 C1484.0,938.5 1461.3,950.8 1454.5,954.5 C1447.7,958.2 1446.1,959.9 1444.0,960.6 C1441.9,961.3 1441.1,961.0 1438.8,959.8 C1436.4,958.5 1429.8,953.3 1426.5,951.0 C1423.2,948.7 1413.8,944.8 1414.3,942.3Z" fill="#fff" stroke="#2e2a29" stroke-width="1.5"/>
<line x1="1419.9" y1="939.1" x2="1444.0" y2="955.9" stroke="#3e3a39" stroke-width="1"/>
<line x1="1423.0" y1="937.0" x2="1447.5" y2="953.8" stroke="#777" stroke-width="0.8"/>
<ellipse cx="1435.3" cy="930.9" rx="1.1" ry="2.3" transform="rotate(8 1435.3 930.9)" fill="#fff" stroke="#3e3a39" stroke-width="0.8"/>
<ellipse cx="1439.6" cy="928.4" rx="1.1" ry="2.3" transform="rotate(8 1439.6 928.4)" fill="#fff" stroke="#3e3a39" stroke-width="0.8"/>
<ellipse cx="1443.9" cy="925.8" rx="1.1" ry="2.3" transform="rotate(8 1443.9 925.8)" fill="#fff" stroke="#3e3a39" stroke-width="0.8"/>
<ellipse cx="1448.2" cy="923.3" rx="1.1" ry="2.3" transform="rotate(8 1448.2 923.3)" fill="#fff" stroke="#3e3a39" stroke-width="0.8"/>
<ellipse cx="1452.6" cy="920.8" rx="1.1" ry="2.3" transform="rotate(8 1452.6 920.8)" fill="#fff" stroke="#3e3a39" stroke-width="0.8"/>
<ellipse cx="1456.9" cy="918.3" rx="1.1" ry="2.3" transform="rotate(8 1456.9 918.3)" fill="#fff" stroke="#3e3a39" stroke-width="0.8"/>
<ellipse cx="1461.2" cy="915.7" rx="1.1" ry="2.3" transform="rotate(8 1461.2 915.7)" fill="#fff" stroke="#3e3a39" stroke-width="0.8"/>
<ellipse cx="1465.5" cy="913.2" rx="1.1" ry="2.3" transform="rotate(8 1465.5 913.2)" fill="#fff" stroke="#3e3a39" stroke-width="0.8"/>
<ellipse cx="1469.8" cy="910.7" rx="1.1" ry="2.3" transform="rotate(8 1469.8 910.7)" fill="#fff" stroke="#3e3a39" stroke-width="0.8"/>
<ellipse cx="1474.2" cy="908.2" rx="1.1" ry="2.3" transform="rotate(8 1474.2 908.2)" fill="#fff" stroke="#3e3a39" stroke-width="0.8"/>
<ellipse cx="1478.5" cy="905.7" rx="1.1" ry="2.3" transform="rotate(8 1478.5 905.7)" fill="#fff" stroke="#3e3a39" stroke-width="0.8"/>
<ellipse cx="1482.8" cy="903.1" rx="1.1" ry="2.3" transform="rotate(8 1482.8 903.1)" fill="#fff" stroke="#3e3a39" stroke-width="0.8"/>
<ellipse cx="1487.1" cy="900.6" rx="1.1" ry="2.3" transform="rotate(8 1487.1 900.6)" fill="#fff" stroke="#3e3a39" stroke-width="0.8"/>
<ellipse cx="1491.5" cy="898.1" rx="1.1" ry="2.3" transform="rotate(8 1491.5 898.1)" fill="#fff" stroke="#3e3a39" stroke-width="0.8"/>
<ellipse cx="1495.8" cy="895.6" rx="1.1" ry="2.3" transform="rotate(8 1495.8 895.6)" fill="#fff" stroke="#3e3a39" stroke-width="0.8"/>
<ellipse cx="1500.1" cy="893.0" rx="1.1" ry="2.3" transform="rotate(8 1500.1 893.0)" fill="#fff" stroke="#3e3a39" stroke-width="0.8"/>
<ellipse cx="1504.4" cy="890.5" rx="1.1" ry="2.3" transform="rotate(8 1504.4 890.5)" fill="#fff" stroke="#3e3a39" stroke-width="0.8"/>
<ellipse cx="1508.8" cy="888.0" rx="1.1" ry="2.3" transform="rotate(8 1508.8 888.0)" fill="#fff" stroke="#3e3a39" stroke-width="0.8"/>
<path d="M1451.3,945.7 l0,-3.6 a1.5,1.5 0 0 1 3,0 l0,2.2" fill="none" stroke="#3e3a39" stroke-width="0.8" transform="rotate(10 1452.8 943.7)"/>
<path d="M1455.2,943.6 l0,-3.6 a1.5,1.5 0 0 1 3,0 l0,2.2" fill="none" stroke="#3e3a39" stroke-width="0.8" transform="rotate(10 1456.7 941.6)"/>
<path d="M1459.1,941.6 l0,-3.6 a1.5,1.5 0 0 1 3,0 l0,2.2" fill="none" stroke="#3e3a39" stroke-width="0.8" transform="rotate(10 1460.6 939.6)"/>
<path d="M1463.0,939.5 l0,-3.6 a1.5,1.5 0 0 1 3,0 l0,2.2" fill="none" stroke="#3e3a39" stroke-width="0.8" transform="rotate(10 1464.5 937.5)"/>
<path d="M1466.9,937.5 l0,-3.6 a1.5,1.5 0 0 1 3,0 l0,2.2" fill="none" stroke="#3e3a39" stroke-width="0.8" transform="rotate(10 1468.4 935.5)"/>
<path d="M1470.8,935.4 l0,-3.6 a1.5,1.5 0 0 1 3,0 l0,2.2" fill="none" stroke="#3e3a39" stroke-width="0.8" transform="rotate(10 1472.3 933.4)"/>
<path d="M1474.8,933.4 l0,-3.6 a1.5,1.5 0 0 1 3,0 l0,2.2" fill="none" stroke="#3e3a39" stroke-width="0.8" transform="rotate(10 1476.3 931.4)"/>
<path d="M1478.7,931.3 l0,-3.6 a1.5,1.5 0 0 1 3,0 l0,2.2" fill="none" stroke="#3e3a39" stroke-width="0.8" transform="rotate(10 1480.2 929.3)"/>
<path d="M1482.6,929.3 l0,-3.6 a1.5,1.5 0 0 1 3,0 l0,2.2" fill="none" stroke="#3e3a39" stroke-width="0.8" transform="rotate(10 1484.1 927.3)"/>
<path d="M1486.5,927.2 l0,-3.6 a1.5,1.5 0 0 1 3,0 l0,2.2" fill="none" stroke="#3e3a39" stroke-width="0.8" transform="rotate(10 1488.0 925.2)"/>
<path d="M1490.4,925.2 l0,-3.6 a1.5,1.5 0 0 1 3,0 l0,2.2" fill="none" stroke="#3e3a39" stroke-width="0.8" transform="rotate(10 1491.9 923.2)"/>
<path d="M1494.3,923.1 l0,-3.6 a1.5,1.5 0 0 1 3,0 l0,2.2" fill="none" stroke="#3e3a39" stroke-width="0.8" transform="rotate(10 1495.8 921.1)"/>
<path d="M1498.3,921.1 l0,-3.6 a1.5,1.5 0 0 1 3,0 l0,2.2" fill="none" stroke="#3e3a39" stroke-width="0.8" transform="rotate(10 1499.8 919.1)"/>
<path d="M1502.2,919.0 l0,-3.6 a1.5,1.5 0 0 1 3,0 l0,2.2" fill="none" stroke="#3e3a39" stroke-width="0.8" transform="rotate(10 1503.7 917.0)"/>
<path d="M1506.1,917.0 l0,-3.6 a1.5,1.5 0 0 1 3,0 l0,2.2" fill="none" stroke="#3e3a39" stroke-width="0.8" transform="rotate(10 1507.6 915.0)"/>
<path d="M1510.0,914.9 l0,-3.6 a1.5,1.5 0 0 1 3,0 l0,2.2" fill="none" stroke="#3e3a39" stroke-width="0.8" transform="rotate(10 1511.5 912.9)"/>
<path d="M1513.9,912.9 l0,-3.6 a1.5,1.5 0 0 1 3,0 l0,2.2" fill="none" stroke="#3e3a39" stroke-width="0.8" transform="rotate(10 1515.4 910.9)"/>
<path d="M1517.8,910.8 l0,-3.6 a1.5,1.5 0 0 1 3,0 l0,2.2" fill="none" stroke="#3e3a39" stroke-width="0.8" transform="rotate(10 1519.3 908.8)"/>
<path d="M1521.8,908.8 l0,-3.6 a1.5,1.5 0 0 1 3,0 l0,2.2" fill="none" stroke="#3e3a39" stroke-width="0.8" transform="rotate(10 1523.3 906.8)"/>
<path d="M1525.7,906.7 l0,-3.6 a1.5,1.5 0 0 1 3,0 l0,2.2" fill="none" stroke="#3e3a39" stroke-width="0.8" transform="rotate(10 1527.2 904.7)"/>
<path d="M1529.6,904.7 l0,-3.6 a1.5,1.5 0 0 1 3,0 l0,2.2" fill="none" stroke="#3e3a39" stroke-width="0.8" transform="rotate(10 1531.1 902.7)"/>
<path d="M1533.5,902.6 l0,-3.6 a1.5,1.5 0 0 1 3,0 l0,2.2" fill="none" stroke="#3e3a39" stroke-width="0.8" transform="rotate(10 1535.0 900.6)"/>
<g transform="translate(1463.3,925.6) rotate(-27)"><rect x="0" y="-3" width="52" height="4.6" fill="#fff" stroke="#555" stroke-width="0.6"/><line x1="2" y1="-0.7" x2="50" y2="-0.7" stroke="#555" stroke-width="1.6" stroke-dasharray="3 1.4"/></g>
<rect x="-8.5" y="-3.2" width="17" height="6.4" rx="1.6" transform="translate(1532.0,887.7) rotate(25)" fill="#fff" stroke="#3e3a39" stroke-width="1"/>
<circle cx="1522.8" cy="891.9" r="1" fill="none" stroke="#3e3a39" stroke-width="0.7"/>
<g transform="translate(1381.9,974.6) rotate(-27.0)" fill="#4a4a4a" font-weight="bold"><text x="0" y="0" font-size="5.2" textLength="32" lengthAdjust="spacingAndGlyphs" stroke="#4a4a4a" stroke-width="0.3">SHIMANO</text><text x="1" y="3.6" font-size="3.2" textLength="28" lengthAdjust="spacingAndGlyphs">TL-HS37 &#8212;</text></g>
<path d="M343,1128 Q335.5,1136 335.8,1152 L335.8,1210 L426.7,1210 L426.7,1152 Q426.7,1136 419,1128 Q381,1172 343,1128Z" fill="#fff" stroke="#231815" stroke-width="1.5"/>
<path d="M339,1142 Q381,1178 423,1142" fill="none" stroke="#231815" stroke-width="1"/>
<path d="M342,1118 L342,1133 A39,24 0 0 0 419.6,1133 L419.6,1118 Z" fill="#fff" stroke="#231815" stroke-width="1.5"/>
<line x1="344.1" y1="1126.0" x2="344.1" y2="1140.0" stroke="#999" stroke-width="0.7"/>
<line x1="346.5" y1="1129.4" x2="346.5" y2="1143.4" stroke="#999" stroke-width="0.7"/>
<line x1="348.9" y1="1131.9" x2="348.9" y2="1145.9" stroke="#999" stroke-width="0.7"/>
<line x1="351.4" y1="1133.8" x2="351.4" y2="1147.8" stroke="#999" stroke-width="0.7"/>
<line x1="353.9" y1="1135.3" x2="353.9" y2="1149.3" stroke="#999" stroke-width="0.7"/>
<line x1="356.3" y1="1136.7" x2="356.3" y2="1150.7" stroke="#999" stroke-width="0.7"/>
<line x1="358.8" y1="1137.8" x2="358.8" y2="1151.8" stroke="#999" stroke-width="0.7"/>
<line x1="361.2" y1="1138.7" x2="361.2" y2="1152.7" stroke="#999" stroke-width="0.7"/>
<line x1="363.7" y1="1139.6" x2="363.7" y2="1153.6" stroke="#999" stroke-width="0.7"/>
<line x1="366.1" y1="1140.2" x2="366.1" y2="1154.2" stroke="#999" stroke-width="0.7"/>
<line x1="368.6" y1="1140.8" x2="368.6" y2="1154.8" stroke="#999" stroke-width="0.7"/>
<line x1="371.0" y1="1141.2" x2="371.0" y2="1155.2" stroke="#999" stroke-width="0.7"/>
<line x1="373.4" y1="1141.6" x2="373.4" y2="1155.6" stroke="#999" stroke-width="0.7"/>
<line x1="375.9" y1="1141.8" x2="375.9" y2="1155.8" stroke="#999" stroke-width="0.7"/>
<line x1="378.4" y1="1142.0" x2="378.4" y2="1156.0" stroke="#999" stroke-width="0.7"/>
<line x1="380.8" y1="1142.0" x2="380.8" y2="1156.0" stroke="#999" stroke-width="0.7"/>
<line x1="383.2" y1="1142.0" x2="383.2" y2="1156.0" stroke="#999" stroke-width="0.7"/>
<line x1="385.7" y1="1141.8" x2="385.7" y2="1155.8" stroke="#999" stroke-width="0.7"/>
<line x1="388.2" y1="1141.6" x2="388.2" y2="1155.6" stroke="#999" stroke-width="0.7"/>
<line x1="390.6" y1="1141.2" x2="390.6" y2="1155.2" stroke="#999" stroke-width="0.7"/>
<line x1="393.1" y1="1140.8" x2="393.1" y2="1154.8" stroke="#999" stroke-width="0.7"/>
<line x1="395.5" y1="1140.2" x2="395.5" y2="1154.2" stroke="#999" stroke-width="0.7"/>
<line x1="397.9" y1="1139.6" x2="397.9" y2="1153.6" stroke="#999" stroke-width="0.7"/>
<line x1="400.4" y1="1138.7" x2="400.4" y2="1152.7" stroke="#999" stroke-width="0.7"/>
<line x1="402.9" y1="1137.8" x2="402.9" y2="1151.8" stroke="#999" stroke-width="0.7"/>
<line x1="405.3" y1="1136.7" x2="405.3" y2="1150.7" stroke="#999" stroke-width="0.7"/>
<line x1="407.8" y1="1135.3" x2="407.8" y2="1149.3" stroke="#999" stroke-width="0.7"/>
<line x1="410.2" y1="1133.8" x2="410.2" y2="1147.8" stroke="#999" stroke-width="0.7"/>
<line x1="412.7" y1="1131.9" x2="412.7" y2="1145.9" stroke="#999" stroke-width="0.7"/>
<line x1="415.1" y1="1129.4" x2="415.1" y2="1143.4" stroke="#999" stroke-width="0.7"/>
<line x1="417.6" y1="1126.0" x2="417.6" y2="1140.0" stroke="#999" stroke-width="0.7"/>
<path d="M341.8,1112 L341.8,1121 A39,24 0 0 0 419.8,1121 L419.8,1112 Z" fill="#fff" stroke="#231815" stroke-width="1.5"/>
<ellipse cx="380.8" cy="1114" rx="39" ry="23.5" fill="#fff" stroke="#231815" stroke-width="1.5"/>
<path d="M352,1126 Q360,1135 372,1137 M410,1126 Q402,1134 392,1136.5" fill="none" stroke="#231815" stroke-width="0.9"/>
<path d="M347,1158 Q347,1190 347,1210 M351,1163 L351,1210 M412.5,1163 L412.5,1210" fill="none" stroke="#231815" stroke-width="0.9"/>
<path d="M351,1163 Q381,1172 412.5,1163" fill="none" stroke="#231815" stroke-width="0.9"/>
<path d="M353,1168 Q381,1176 411,1168 L411,1187 Q381,1195 353,1187 Z" fill="#231815"/>
<path d="M355,1193 Q370,1197 389,1196" fill="none" stroke="#231815" stroke-width="1.6" stroke-dasharray="1.3 0.9"/>
<line x1="416" y1="1167.5" x2="423" y2="1164.5" stroke="#231815" stroke-width="1.2"/>
<line x1="416" y1="1172.7" x2="423" y2="1169.7" stroke="#231815" stroke-width="1.2"/>
<line x1="416" y1="1177.9" x2="423" y2="1174.9" stroke="#231815" stroke-width="1.2"/>
<line x1="416" y1="1183.1" x2="423" y2="1180.1" stroke="#231815" stroke-width="1.2"/>
<line x1="416" y1="1188.3" x2="423" y2="1185.3" stroke="#231815" stroke-width="1.2"/>
<line x1="416" y1="1193.5" x2="423" y2="1190.5" stroke="#231815" stroke-width="1.2"/>
<line x1="416" y1="1198.7" x2="423" y2="1195.7" stroke="#231815" stroke-width="1.2"/>
<line x1="416" y1="1203.9" x2="423" y2="1200.9" stroke="#231815" stroke-width="1.2"/>
<rect x="496.2" y="95" width="19.6" height="110" fill="#fff"/>
<polyline points="506.3,25.8 506.3,374.8" fill="none" stroke="#231815" stroke-width="1.8" />
<polyline points="506.3,25.8 827.5,25.8" fill="none" stroke="#231815" stroke-width="1.8" />
<polyline points="506.3,61.8 657.5,61.8" fill="none" stroke="#231815" stroke-width="1.8" />
<polyline points="469.7,99.0 506.3,99.0" fill="none" stroke="#231815" stroke-width="1.8" />
<polyline points="506.3,274.3 627.7,274.3" fill="none" stroke="#231815" stroke-width="1.8" />
<polyline points="506.3,374.8 595.5,374.8" fill="none" stroke="#231815" stroke-width="1.8" />
<polyline points="257.5,240.0 281.2,272.5" fill="none" stroke="#231815" stroke-width="1.8" />
<polyline points="323.8,548.0 305.0,580.0" fill="none" stroke="#231815" stroke-width="1.8" />
<polyline points="369.8,521.6 356.0,614.0 389.0,521.6" fill="none" stroke="#3e3a39" stroke-width="1.3" />
<polyline points="653.8,690.0 627.5,766.0 673.8,690.0" fill="none" stroke="#3e3a39" stroke-width="1.3" />
<polyline points="695.0,760.0 677.5,787.5" fill="none" stroke="#231815" stroke-width="1.8" />
<polyline points="1037.5,936.2 1012.5,978.8" fill="none" stroke="#231815" stroke-width="1.8" />
<polyline points="1123.2,984.5 1107.5,1012.5" fill="none" stroke="#231815" stroke-width="1.8" />
<polyline points="1194.2,1025.0 1177.5,1053.8" fill="none" stroke="#231815" stroke-width="1.8" />
<polyline points="1203.8,1162.5 1135.0,1203.0" fill="none" stroke="#231815" stroke-width="1.8" />
<polyline points="91.2,636.2 61.2,650.0 1035.0,1202.9" fill="none" stroke="#231815" stroke-width="1.8" />
<polyline points="91.2,636.2 118.0,619.5" fill="none" stroke="#231815" stroke-width="1.8" />
<polyline points="161.0,571.0 91.0,604.0 145.0,635.0 210.0,601.0" fill="none" stroke="#231815" stroke-width="1.8" />
<polyline points="210.0,733.5 321.0,669.0" fill="none" stroke="#231815" stroke-width="1.8" />
<polyline points="474.6,884.7 586.0,821.0" fill="none" stroke="#231815" stroke-width="1.8" />
<polyline points="470.0,937.5 517.5,909.5" fill="none" stroke="#231815" stroke-width="1.8" />
<polyline points="782.5,919.5 659.6,989.7" fill="none" stroke="#231815" stroke-width="1.8" />
<polyline points="1339.5,26.4 1339.5,69.5" fill="none" stroke="#231815" stroke-width="1.8" />
<polyline points="1339.3,292.7 1339.3,335.3" fill="none" stroke="#231815" stroke-width="1.8" />
<polyline points="1196.3,477.5 1196.3,514.2" fill="none" stroke="#231815" stroke-width="1.8" />
<polyline points="1135.3,551.7 1135.3,514.2 1255.8,514.2 1255.8,551.7" fill="none" stroke="#231815" stroke-width="1.8" />
<polyline points="1477.0,513.0 1477.0,548.5" fill="none" stroke="#231815" stroke-width="1.8" />
<polyline points="1434.0,572.0 1434.0,548.5 1520.3,548.5 1520.3,586.0" fill="none" stroke="#231815" stroke-width="1.8" />
<polyline points="1196.2,780.3 1196.2,832.5" fill="none" stroke="#231815" stroke-width="1.8" />
<polyline points="1428.0,876.2 1428.0,931.0" fill="none" stroke="#231815" stroke-width="1.8" />
<polyline points="381.3,1047.2 381.3,1090.0" fill="none" stroke="#231815" stroke-width="1.8" />
<rect x="302.1" y="488.9" width="172.8" height="32.7" fill="#fff" stroke="#3e3a39" stroke-width="1.3"/>
<path d="M370.5,521.6 L388.3,521.6" stroke="#fff" stroke-width="2.2"/>
<text x="309.6" y="512" font-size="21.5" font-weight="bold" fill="#231815" textLength="158" lengthAdjust="spacing">5/32&#8221; x 15 pcs.</text>
<rect x="618.3" y="657.5" width="174.2" height="32.5" fill="#fff" stroke="#3e3a39" stroke-width="1.3"/>
<path d="M654.5,690 L673,690" stroke="#fff" stroke-width="2.2"/>
<text x="625.5" y="680.3" font-size="21.5" font-weight="bold" fill="#231815" textLength="158" lengthAdjust="spacing">3/16&#8221; x 13 pcs.</text>
<rect x="1124.5" y="69.5" width="429.5" height="179" fill="none" stroke="#231815" stroke-width="1.4"/>
<text x="1147.5" y="448.3" font-size="22" font-weight="bold" fill="#231815" textLength="95.8" lengthAdjust="spacingAndGlyphs">TL-FH12</text>
<text x="1430.4" y="483.2" font-size="22" font-weight="bold" fill="#231815" textLength="93.4" lengthAdjust="spacingAndGlyphs">TL-7S20</text>
<text x="1147.0" y="751.3" font-size="22" font-weight="bold" fill="#231815" textLength="98.3" lengthAdjust="spacingAndGlyphs">TL-HS22</text>
<text x="1379.7" y="848.0" font-size="22" font-weight="bold" fill="#231815" textLength="95.3" lengthAdjust="spacingAndGlyphs">TL-HS37</text>
<circle cx="549.8" cy="25.8" r="13.6" fill="#fff" stroke="#231815" stroke-width="1.55"/><path d="M547.94,34.30 L547.94,17.40 L545.84,17.40 Q544.94,20.60 540.74,21.30 L540.74,23.60 L545.04,23.60 L545.04,34.30 Z" fill="#231815"/><text transform="translate(549.80,34.3) scale(0.78,1)" font-size="23.2" fill="#231815" stroke="#231815" stroke-width="0.85">5</text>
<circle cx="549.8" cy="61.8" r="13.6" fill="#fff" stroke="#231815" stroke-width="1.55"/><path d="M547.94,70.30 L547.94,53.40 L545.84,53.40 Q544.94,56.60 540.74,57.30 L540.74,59.60 L545.04,59.60 L545.04,70.30 Z" fill="#231815"/><text transform="translate(549.80,70.3) scale(0.78,1)" font-size="23.2" fill="#231815" stroke="#231815" stroke-width="0.85">5</text>
<circle cx="469.7" cy="99.0" r="13.6" fill="#fff" stroke="#231815" stroke-width="1.55"/><path d="M467.84,107.50 L467.84,90.60 L465.74,90.60 Q464.84,93.80 460.64,94.50 L460.64,96.80 L464.94,96.80 L464.94,107.50 Z" fill="#231815"/><text transform="translate(469.70,107.5) scale(0.78,1)" font-size="23.2" fill="#231815" stroke="#231815" stroke-width="0.85">2</text>
<circle cx="549.7" cy="274.3" r="13.6" fill="#fff" stroke="#231815" stroke-width="1.55"/><path d="M547.84,282.80 L547.84,265.90 L545.74,265.90 Q544.84,269.10 540.64,269.80 L540.64,272.10 L544.94,272.10 L544.94,282.80 Z" fill="#231815"/><text transform="translate(549.70,282.8) scale(0.78,1)" font-size="23.2" fill="#231815" stroke="#231815" stroke-width="0.85">4</text>
<circle cx="549.7" cy="374.8" r="13.6" fill="#fff" stroke="#231815" stroke-width="1.55"/><path d="M547.84,383.25 L547.84,366.35 L545.74,366.35 Q544.84,369.55 540.64,370.25 L540.64,372.55 L544.94,372.55 L544.94,383.25 Z" fill="#231815"/><text transform="translate(549.70,383.2) scale(0.78,1)" font-size="23.2" fill="#231815" stroke="#231815" stroke-width="0.85">3</text>
<circle cx="257.5" cy="240.0" r="13.6" fill="#fff" stroke="#231815" stroke-width="1.55"/><path d="M255.64,248.50 L255.64,231.60 L253.54,231.60 Q252.64,234.80 248.44,235.50 L248.44,237.80 L252.74,237.80 L252.74,248.50 Z" fill="#231815"/><path d="M265.70,248.50 L265.70,231.60 L263.60,231.60 Q262.70,234.80 258.50,235.50 L258.50,237.80 L262.80,237.80 L262.80,248.50 Z" fill="#231815"/>
<circle cx="323.8" cy="548.0" r="13.6" fill="#fff" stroke="#231815" stroke-width="1.55"/><path d="M321.89,556.50 L321.89,539.60 L319.79,539.60 Q318.89,542.80 314.69,543.50 L314.69,545.80 L318.99,545.80 L318.99,556.50 Z" fill="#231815"/><text transform="translate(323.75,556.5) scale(0.78,1)" font-size="23.2" fill="#231815" stroke="#231815" stroke-width="0.85">0</text>
<circle cx="91.2" cy="636.2" r="13.6" fill="#fff" stroke="#231815" stroke-width="1.55"/><text transform="translate(86.22,644.8) scale(0.78,1)" font-size="23.2" fill="#231815" stroke="#231815" stroke-width="0.85">5</text>
<circle cx="260.0" cy="703.8" r="13.6" fill="#fff" stroke="#231815" stroke-width="1.55"/><text transform="translate(254.97,712.2) scale(0.78,1)" font-size="23.2" fill="#231815" stroke="#231815" stroke-width="0.85">4</text>
<circle cx="525.0" cy="855.0" r="13.6" fill="#fff" stroke="#231815" stroke-width="1.55"/><text transform="translate(519.97,863.5) scale(0.78,1)" font-size="23.2" fill="#231815" stroke="#231815" stroke-width="0.85">3</text>
<circle cx="470.0" cy="937.5" r="13.6" fill="#fff" stroke="#231815" stroke-width="1.55"/><path d="M472.57,946.00 L472.57,929.10 L470.47,929.10 Q469.57,932.30 465.37,933.00 L465.37,935.30 L469.67,935.30 L469.67,946.00 Z" fill="#231815"/>
<circle cx="695.0" cy="760.0" r="13.6" fill="#fff" stroke="#231815" stroke-width="1.55"/><text transform="translate(689.97,768.5) scale(0.78,1)" font-size="23.2" fill="#231815" stroke="#231815" stroke-width="0.85">9</text>
<circle cx="1037.5" cy="936.2" r="13.6" fill="#fff" stroke="#231815" stroke-width="1.55"/><text transform="translate(1032.47,944.8) scale(0.78,1)" font-size="23.2" fill="#231815" stroke="#231815" stroke-width="0.85">8</text>
<circle cx="1123.2" cy="984.5" r="13.6" fill="#fff" stroke="#231815" stroke-width="1.55"/><text transform="translate(1118.22,993.0) scale(0.78,1)" font-size="23.2" fill="#231815" stroke="#231815" stroke-width="0.85">7</text>
<circle cx="1194.2" cy="1025.0" r="13.6" fill="#fff" stroke="#231815" stroke-width="1.55"/><text transform="translate(1189.22,1033.5) scale(0.78,1)" font-size="23.2" fill="#231815" stroke="#231815" stroke-width="0.85">6</text>
<circle cx="1135.0" cy="1203.0" r="13.6" fill="#fff" stroke="#231815" stroke-width="1.55"/><text transform="translate(1129.97,1211.5) scale(0.78,1)" font-size="23.2" fill="#231815" stroke="#231815" stroke-width="0.85">2</text>
<circle cx="381.3" cy="1047.2" r="13.6" fill="#fff" stroke="#231815" stroke-width="1.55"/><text transform="translate(371.24,1055.7) scale(0.78,1)" font-size="23.2" fill="#231815" stroke="#231815" stroke-width="0.85">2</text><text transform="translate(381.30,1055.7) scale(0.78,1)" font-size="23.2" fill="#231815" stroke="#231815" stroke-width="0.85">2</text>
<circle cx="1339.5" cy="26.4" r="13.6" fill="#fff" stroke="#231815" stroke-width="1.55"/><path d="M1337.64,34.90 L1337.64,18.00 L1335.54,18.00 Q1334.64,21.20 1330.44,21.90 L1330.44,24.20 L1334.74,24.20 L1334.74,34.90 Z" fill="#231815"/><text transform="translate(1339.50,34.9) scale(0.78,1)" font-size="23.2" fill="#231815" stroke="#231815" stroke-width="0.85">6</text>
<circle cx="1339.3" cy="292.7" r="13.6" fill="#fff" stroke="#231815" stroke-width="1.55"/><path d="M1337.44,301.20 L1337.44,284.30 L1335.34,284.30 Q1334.44,287.50 1330.24,288.20 L1330.24,290.50 L1334.54,290.50 L1334.54,301.20 Z" fill="#231815"/><text transform="translate(1339.30,301.2) scale(0.78,1)" font-size="23.2" fill="#231815" stroke="#231815" stroke-width="0.85">7</text>
<circle cx="1196.3" cy="477.5" r="13.6" fill="#fff" stroke="#231815" stroke-width="1.55"/><path d="M1194.44,486.00 L1194.44,469.10 L1192.34,469.10 Q1191.44,472.30 1187.24,473.00 L1187.24,475.30 L1191.54,475.30 L1191.54,486.00 Z" fill="#231815"/><text transform="translate(1196.30,486.0) scale(0.78,1)" font-size="23.2" fill="#231815" stroke="#231815" stroke-width="0.85">8</text>
<circle cx="1477.0" cy="513.0" r="13.6" fill="#fff" stroke="#231815" stroke-width="1.55"/><path d="M1475.14,521.50 L1475.14,504.60 L1473.04,504.60 Q1472.14,507.80 1467.94,508.50 L1467.94,510.80 L1472.24,510.80 L1472.24,521.50 Z" fill="#231815"/><text transform="translate(1477.00,521.5) scale(0.78,1)" font-size="23.2" fill="#231815" stroke="#231815" stroke-width="0.85">9</text>
<circle cx="1196.2" cy="780.3" r="13.6" fill="#fff" stroke="#231815" stroke-width="1.55"/><text transform="translate(1186.19,788.8) scale(0.78,1)" font-size="23.2" fill="#231815" stroke="#231815" stroke-width="0.85">2</text><text transform="translate(1196.25,788.8) scale(0.78,1)" font-size="23.2" fill="#231815" stroke="#231815" stroke-width="0.85">0</text>
<circle cx="1428.0" cy="876.2" r="13.6" fill="#fff" stroke="#231815" stroke-width="1.55"/><text transform="translate(1417.94,884.8) scale(0.78,1)" font-size="23.2" fill="#231815" stroke="#231815" stroke-width="0.85">2</text><path d="M1436.20,884.75 L1436.20,867.85 L1434.10,867.85 Q1433.20,871.05 1429.00,871.75 L1429.00,874.05 L1433.30,874.05 L1433.30,884.75 Z" fill="#231815"/>
</g>
</svg>
</body></html>
